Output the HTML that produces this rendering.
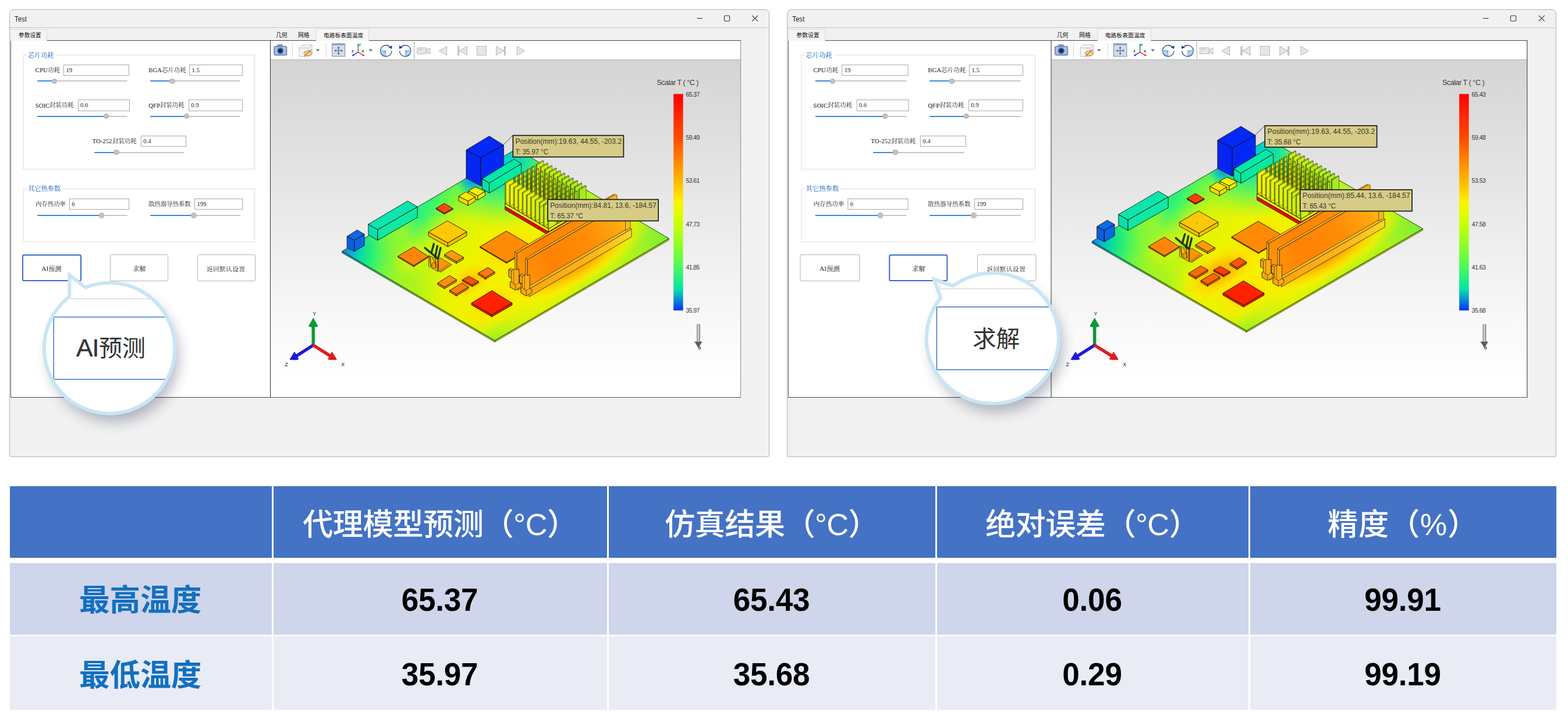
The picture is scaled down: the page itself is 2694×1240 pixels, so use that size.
<!DOCTYPE html><html lang="zh"><head><meta charset="utf-8"><title>Thermal surrogate model vs simulation</title><style>
*{box-sizing:border-box}
html,body{margin:0;padding:0}
body{width:2694px;height:1240px;background:#fff;position:relative;overflow:hidden;font-family:"Liberation Sans",sans-serif;color:#000}
.abs,.cj{position:absolute}
.cj{overflow:visible;display:block}
.cj text{font-family:"Liberation Sans","Noto Sans CJK SC",sans-serif}
.cj text.sf{font-family:"Liberation Serif","Noto Serif CJK SC",serif}
.win{position:absolute;left:0;top:0;width:0;height:0;transform-origin:0 0}
.frame{position:absolute;left:16.3px;top:16.3px;width:1305.6px;height:768.8px;background:#f1f1f1;border:1.3px solid #b4b4b4;border-radius:8px 8px 3px 3px}
.ttl{position:absolute;left:25px;top:26.0px;font-size:13.4px;line-height:14px;color:#222;transform:scaleX(0.85);transform-origin:0 0}
.tline{position:absolute;left:17px;top:47.2px;width:1304px;height:1.2px;background:#c4c4c4}
.panel{position:absolute;background:#fff}
.tab{position:absolute;background:#f4f4f4;border:1px solid #dcdcdc;border-bottom:none}
.gb{position:absolute;border:1px solid #dedede}
.inp{position:absolute;height:19.4px;border:1px solid #a8a8a8;background:#fff;font-family:"Liberation Serif",serif;font-size:10.6px;line-height:18px;padding-left:3.6px;color:#222}
.lab{position:absolute;font-family:"Liberation Serif",serif;font-size:10.8px;color:#222;white-space:nowrap;line-height:12px}
.trk{position:absolute;height:2px;background:#c6c6c6;border-radius:1px}
.trk i{position:absolute;left:0;top:0;height:2px;background:#3c88dc;border-radius:1px}
.knob{position:absolute;width:9.4px;height:9.4px;border-radius:50%;background:#c2c2c2;border:0.5px solid #b0b0b0}
.btn{position:absolute;height:46.4px;border:1px solid #b4b4b4;border-radius:2.5px;background:#fff}
.btn.sel{border:2px solid #3a6cc8;border-radius:3px}
.lt{font-family:"Liberation Sans",sans-serif;font-size:12px;fill:#3c3824}
.cbl{position:absolute;font-size:10.4px;color:#333;letter-spacing:-0.5px;line-height:10px}
table.t{position:absolute;left:16.8px;top:834.6px;border-collapse:separate;border-spacing:0}
.t td{padding:0;text-align:center;vertical-align:middle;position:relative}
.num{font-weight:bold;font-size:53px;letter-spacing:-0.2px;color:#000;line-height:60px;display:block;transform:scaleY(1.05)}
.vh{position:absolute;width:1px;height:1px;overflow:hidden;clip:rect(0 0 0 0);white-space:nowrap}
</style></head><body><div class="win" style="transform:translate(16.30px,0) scaleX(1.00000) translate(-16.30px,0)"><div class="frame"></div><div class="ttl">Test</div><svg class="abs" style="left:1180px;top:20px" width="130" height="24" viewBox="1180 20 130 24"><g fill="none" stroke="#2a2a2a" stroke-width="1.05"><path d="M1197.3 31.5h9.6"/><rect x="1244.4" y="27" width="9.2" height="9.2" rx="1.6"/><path d="M1292.2 26.6l9.8 9.8M1302 26.6l-9.8 9.8"/></g></svg><div class="tline"></div><div class="tab" style="left:17.5px;top:49.6px;width:63px;height:20.4px"></div><svg class="cj" role="img" aria-label="参数设置" style="left:32.40px;top:53.90px" width="40.8" height="14.1" viewBox="0 0 40.8 14.1"><title>参数设置</title><text x="0" y="9.7" font-size="9.7" fill="#111">参数设置</text></svg><div class="abs" style="left:80.5px;top:68.9px;width:385px;height:1.3px;background:#4a4a4a"></div><div class="panel" style="left:17.6px;top:70.1px;width:447px;height:612.6px;border-left:1.6px solid #555;border-bottom:1.2px solid #444"></div><div class="gb" style="left:40.4px;top:94.2px;width:397.4px;height:196.6px"></div><div class="abs" style="left:45.5px;top:88px;width:50px;height:13px;background:#fff"></div><svg class="cj" role="img" aria-label="芯片功耗" style="left:48.20px;top:87.50px" width="46.4" height="16.1" viewBox="0 0 46.4 16.1"><title>芯片功耗</title><text class="sf" x="0" y="11.1" font-size="11.1" font-weight="500" fill="#2878c8">芯片功耗</text></svg><div class="gb" style="left:40.4px;top:324.2px;width:397.4px;height:91.4px"></div><div class="abs" style="left:45.5px;top:318px;width:61.5px;height:13px;background:#fff"></div><svg class="cj" role="img" aria-label="其它热参数" style="left:48.20px;top:317.40px" width="58.0" height="16.2" viewBox="0 0 58.0 16.2"><title>其它热参数</title><text class="sf" x="0" y="11.2" font-size="11.2" font-weight="500" fill="#2878c8">其它热参数</text></svg><span class="lab" style="left:60.7px;top:114.3px" >CPU</span><svg class="cj" role="img" aria-label="功耗" style="left:81.90px;top:114.10px" width="22.8" height="15.1" viewBox="0 0 22.8 15.1"><title>功耗</title><text class="sf" x="0" y="10.4" font-size="10.4" fill="#222">功耗</text></svg><div class="inp" style="left:108.9px;top:111.0px;width:113.6px">19</div><div class="trk" style="left:64.0px;top:138.3px;width:155.2px"><i style="width:29.7px"></i></div><div class="knob" style="left:89.0px;top:134.5px"></div><span class="lab" style="left:255.2px;top:114.3px" >BGA</span><svg class="cj" role="img" aria-label="芯片功耗" style="left:278.10px;top:114.10px" width="43.6" height="15.1" viewBox="0 0 43.6 15.1"><title>芯片功耗</title><text class="sf" x="0" y="10.4" font-size="10.4" fill="#222">芯片功耗</text></svg><div class="inp" style="left:325.0px;top:111.0px;width:91.7px">1.5</div><div class="trk" style="left:258.0px;top:138.3px;width:155.0px"><i style="width:38.0px"></i></div><div class="knob" style="left:291.3px;top:134.5px"></div><span class="lab" style="left:60.7px;top:174.6px" >SOIC</span><svg class="cj" role="img" aria-label="封装功耗" style="left:85.40px;top:174.40px" width="43.6" height="15.1" viewBox="0 0 43.6 15.1"><title>封装功耗</title><text class="sf" x="0" y="10.4" font-size="10.4" fill="#222">封装功耗</text></svg><div class="inp" style="left:133.5px;top:171.3px;width:89.0px">0.6</div><div class="trk" style="left:64.0px;top:198.7px;width:155.2px"><i style="width:118.4px"></i></div><div class="knob" style="left:177.7px;top:194.9px"></div><span class="lab" style="left:255.2px;top:174.6px" >QFP</span><svg class="cj" role="img" aria-label="封装功耗" style="left:275.10px;top:174.40px" width="43.6" height="15.1" viewBox="0 0 43.6 15.1"><title>封装功耗</title><text class="sf" x="0" y="10.4" font-size="10.4" fill="#222">封装功耗</text></svg><div class="inp" style="left:323.7px;top:171.3px;width:93.0px">0.9</div><div class="trk" style="left:258.0px;top:198.7px;width:155.0px"><i style="width:62.3px"></i></div><div class="knob" style="left:315.6px;top:194.9px"></div><span class="lab" style="left:158.5px;top:236.4px" >TO-252</span><svg class="cj" role="img" aria-label="封装功耗" style="left:192.60px;top:236.20px" width="43.6" height="15.1" viewBox="0 0 43.6 15.1"><title>封装功耗</title><text class="sf" x="0" y="10.4" font-size="10.4" fill="#222">封装功耗</text></svg><div class="inp" style="left:241.7px;top:233.1px;width:78.6px">0.4</div><div class="trk" style="left:161.8px;top:260.7px;width:155.2px"><i style="width:38.2px"></i></div><div class="knob" style="left:195.3px;top:256.9px"></div><svg class="cj" role="img" aria-label="内存热功率" style="left:61.40px;top:344.00px" width="54.0" height="15.1" viewBox="0 0 54.0 15.1"><title>内存热功率</title><text class="sf" x="0" y="10.4" font-size="10.4" fill="#222">内存热功率</text></svg><div class="inp" style="left:118.7px;top:340.9px;width:103.8px">6</div><div class="trk" style="left:64.0px;top:369.0px;width:155.2px"><i style="width:110.6px"></i></div><div class="knob" style="left:169.9px;top:365.2px"></div><svg class="cj" role="img" aria-label="散热器导热系数" style="left:255.20px;top:344.00px" width="74.8" height="15.1" viewBox="0 0 74.8 15.1"><title>散热器导热系数</title><text class="sf" x="0" y="10.4" font-size="10.4" fill="#222">散热器导热系数</text></svg><div class="inp" style="left:333.8px;top:340.9px;width:82.9px">199</div><div class="trk" style="left:258.0px;top:369.0px;width:155.0px"><i style="width:75.1px"></i></div><div class="knob" style="left:328.4px;top:365.2px"></div><div class="btn sel" style="left:38.1px;top:436.5px;width:101.7px"></div><div class="btn" style="left:189.2px;top:436.5px;width:99.8px"></div><div class="btn" style="left:338.9px;top:436.5px;width:99.8px"></div><span class="lab" style="left:71.2px;top:455.0px;font-size:11.4px">AI</span><svg class="cj" role="img" aria-label="预测" style="left:83.40px;top:454.60px" width="24.6" height="16.4" viewBox="0 0 24.6 16.4"><title>预测</title><text class="sf" x="0" y="11.3" font-size="11.3" fill="#222">预测</text></svg><svg class="cj" role="img" aria-label="求解" style="left:227.80px;top:454.50px" width="24.8" height="16.5" viewBox="0 0 24.8 16.5"><title>求解</title><text class="sf" x="0" y="11.4" font-size="11.4" fill="#222">求解</text></svg><svg class="cj" role="img" aria-label="返回默认设置" style="left:355.10px;top:455.00px" width="68.3" height="15.4" viewBox="0 0 68.3 15.4"><title>返回默认设置</title><text class="sf" x="0" y="10.6" font-size="10.6" letter-spacing="0.45" fill="#222">返回默认设置</text></svg><svg class="cj" role="img" aria-label="几何" style="left:473.80px;top:53.70px" width="21.6" height="14.2" viewBox="0 0 21.6 14.2"><title>几何</title><text x="0" y="9.8" font-size="9.8" fill="#111">几何</text></svg><svg class="cj" role="img" aria-label="网格" style="left:512.20px;top:53.70px" width="21.6" height="14.2" viewBox="0 0 21.6 14.2"><title>网格</title><text x="0" y="9.8" font-size="9.8" fill="#111">网格</text></svg><div class="tab" style="left:542.6px;top:49.4px;width:91px;height:20.6px;background:#f6f6f6"></div><svg class="cj" role="img" aria-label="电路板表面温度" style="left:556.20px;top:54.00px" width="70.2" height="13.9" viewBox="0 0 70.2 13.9"><title>电路板表面温度</title><text x="0" y="9.6" font-size="9.6" letter-spacing="0.15" fill="#111">电路板表面温度</text></svg><div class="abs" style="left:463.6px;top:68.8px;width:79px;height:1.4px;background:#444"></div><div class="abs" style="left:633.6px;top:68.8px;width:639.4px;height:1.4px;background:#444"></div><div class="abs" style="left:463.6px;top:70.2px;width:809.6px;height:612.6px;border-left:1.8px solid #333;border-right:1.6px solid #8c8c8c;border-bottom:1.2px solid #555;background:linear-gradient(#fff 0,#fff 32.0px,#9a9a9a 32.0px,#d4d4d4 33.2px,#d6d6d6 8%,#dedede 25%,#e8e8e8 45%,#f2f2f2 65%,#fafafa 82%,#fff 96%)"></div><svg class="abs" style="left:466px;top:71px" width="450" height="31" viewBox="466 71 450 31"><g><rect x="470.8" y="79.4" width="22" height="15.6" rx="2.4" fill="#7894c4" stroke="#50679a" stroke-width="0.8"/><rect x="476.5" y="76.8" width="9" height="4" rx="1" fill="#7894c4" stroke="#50679a" stroke-width="0.7"/><rect x="472.2" y="80.8" width="19.2" height="12.8" rx="1.6" fill="#a8bce0"/><circle cx="481.6" cy="87.2" r="5.6" fill="#5f7fb8"/><circle cx="481.6" cy="87.2" r="3.9" fill="#16305e"/><circle cx="489.4" cy="82.4" r="0.9" fill="#fff"/></g><path d="M502.5 74.5v24M560.4 74.5v24" stroke="#d4d4d4" stroke-width="1"/><g stroke="#b4b4b4" stroke-width="0.8" fill="#f4f4f4"><path d="M514 82.5l5.5-5.5h16.5v14.5l-5.5 5.5h-16.5z"/><path d="M514 82.5h16.5v14.5M530.5 82.5l5.5-5.5" fill="none"/></g><ellipse cx="529.2" cy="91.6" rx="7.2" ry="4.3" fill="#e8c878" stroke="#b08840" stroke-width="0.9"/><ellipse cx="529.2" cy="91.6" rx="3.6" ry="2.6" fill="#f0dca0"/><path d="M522.4 97.2l12.8-12.4" stroke="#d04830" stroke-width="1.1"/><path d="M542.6 84.6h6.6l-3.3 3.8z" fill="#6c6c6c"/><rect x="570.6" y="75" width="22.2" height="21.8" fill="#d4dcec" stroke="#6c7c9c" stroke-width="0.9"/><rect x="570.6" y="75" width="22.2" height="2.6" fill="#8c9cbc"/><g stroke="#3c4c74" stroke-width="0.9" fill="#3c4c74"><path d="M581.7 81.5v11M576.2 87h11" fill="none"/><path d="M581.7 80.2l-1.6 2.2h3.2zM581.7 93.8l-1.6-2.2h3.2zM574.9 87l2.2-1.6v3.2zM588.5 87l-2.2-1.6v3.2z" stroke-width="0.4"/></g><g stroke-width="1.4" fill="none"><path d="M615.4 89.6v-12" stroke="#10a040"/><path d="M615.4 89.6l-9 5.6" stroke="#2030e8"/><path d="M615.4 89.6l9.4 5.6" stroke="#e82020"/></g><path d="M615.4 75l-2.2 3.6h4.4z" fill="#10a040"/><path d="M604.6 96.4l4-0.6-2-3z" fill="#2030e8"/><path d="M626.6 96.4l-4-0.6 2-3z" fill="#e82020"/><text x="616.4" y="79" font-size="5.6" font-weight="bold" fill="#222" font-family="Liberation Sans,sans-serif">Y</text><text x="604" y="90.4" font-size="6" font-weight="bold" fill="#222" font-family="Liberation Sans,sans-serif">Z</text><text x="621.6" y="90.4" font-size="6" font-weight="bold" fill="#222" font-family="Liberation Sans,sans-serif">X</text><path d="M633.6 84.6h6.6l-3.3 3.8z" fill="#6c6c6c"/><g fill="none" stroke="#2c4c84" stroke-width="1.3"><path d="M670.2 80.8a9.6 9.6 0 1 0 2.6 6.6"/></g><path d="M673.6 78.2l-0.4 5.8-5.4-2.6z" fill="#1c3c74"/><path d="M653.6 86.6h9.4v9.6a9.6 9.6 0 0 1-9.4-9.6z" fill="#a8d4f4" stroke="#4c84c4" stroke-width="0.6"/><path d="M660 88.4h1.6v1.4" stroke="#2c5c9c" stroke-width="0.6" fill="none"/><g fill="none" stroke="#2c4c84" stroke-width="1.3"><path d="M689.2 80.8a9.6 9.6 0 1 1-2.6 6.6"/></g><path d="M685.8 78.2l0.4 5.8 5.4-2.6z" fill="#1c3c74"/><path d="M705.8 86.6h-9.4v9.6a9.6 9.6 0 0 0 9.4-9.6z" fill="#a8d4f4" stroke="#4c84c4" stroke-width="0.6"/><path d="M699.4 88.4h-1.6v1.4" stroke="#2c5c9c" stroke-width="0.6" fill="none"/><path d="M711.6 72v29.5" stroke="#a4a4a4" stroke-width="1"/><rect x="716.8" y="82" width="16" height="10.6" rx="1" fill="#e6e6e6" stroke="#b8b8b8" stroke-width="1"/><path d="M733.2 85.4l5.8-3v10.4l-5.8-3z" fill="#e6e6e6" stroke="#b8b8b8" stroke-width="1"/><rect x="719.4" y="84.2" width="5.6" height="1.8" fill="#c4c4c4"/><path d="M767.6 79.6v15.2l-13.4-7.6z" fill="#e6e6e6" stroke="#b8b8b8" stroke-width="1"/><path d="M802.4 79.6v15.2l-13.4-7.6z" fill="#e6e6e6" stroke="#b8b8b8" stroke-width="1"/><rect x="786.4" y="79.4" width="2.4" height="15.6" fill="#c8c8c8" stroke="#b0b0b0" stroke-width="0.6"/><rect x="819.4" y="79.4" width="16" height="15.6" fill="#e6e6e6" stroke="#b8b8b8" stroke-width="1"/><path d="M852.6 79.6v15.2l13.4-7.6z" fill="#e6e6e6" stroke="#b8b8b8" stroke-width="1"/><rect x="866.2" y="79.4" width="2.4" height="15.6" fill="#c8c8c8" stroke="#b0b0b0" stroke-width="0.6"/><path d="M888.4 79.6v15.2l13.4-7.6z" fill="#e6e6e6" stroke="#b8b8b8" stroke-width="1"/></svg><svg class="abs" style="left:465.4px;top:102.8px" width="806" height="579" viewBox="465.4 102.8 806 579"><g transform="translate(0.0 0.0)"><defs><defs><linearGradient id="asideL" gradientUnits="userSpaceOnUse" x1="588.2" y1="0" x2="850.6" y2="0"><stop offset="0" stop-color="#1880b8"/><stop offset="0.2" stop-color="#1cc080"/><stop offset="0.5" stop-color="#84c424"/><stop offset="1" stop-color="#9cc81c"/></linearGradient></defs><clipPath id="abc"><polygon points="588.2,431.3 887.4,255.6 1149.7,409.4 850.6,584.6"/></clipPath><linearGradient id="agLT" gradientUnits="userSpaceOnUse" x1="737.8" y1="343.4" x2="845.7" y2="406.5"><stop offset="0" stop-color="#2cf47a" stop-opacity="1"/><stop offset="0.2" stop-color="#5cf84e" stop-opacity="0.95"/><stop offset="0.45" stop-color="#a4f622" stop-opacity="0.75"/><stop offset="0.75" stop-color="#d4f60a" stop-opacity="0.4"/><stop offset="1" stop-color="#ecf400" stop-opacity="0"/></linearGradient><linearGradient id="agLB" gradientUnits="userSpaceOnUse" x1="719.4" y1="508.0" x2="779.8" y2="472.5"><stop offset="0" stop-color="#a8f41e" stop-opacity="0.95"/><stop offset="0.5" stop-color="#cdf60c" stop-opacity="0.6"/><stop offset="1" stop-color="#e6f400" stop-opacity="0"/></linearGradient><linearGradient id="agBR" gradientUnits="userSpaceOnUse" x1="1000.2" y1="497.0" x2="922.4" y2="451.6"><stop offset="0" stop-color="#b8f416" stop-opacity="0.9"/><stop offset="0.5" stop-color="#dcf404" stop-opacity="0.5"/><stop offset="1" stop-color="#e6f400" stop-opacity="0"/></linearGradient><linearGradient id="agTR" gradientUnits="userSpaceOnUse" x1="1018.5" y1="332.5" x2="928.0" y2="385.7"><stop offset="0" stop-color="#98f42c" stop-opacity="0.9"/><stop offset="0.5" stop-color="#bcf416" stop-opacity="0.55"/><stop offset="1" stop-color="#e6f400" stop-opacity="0"/></linearGradient><radialGradient id="arL" gradientUnits="userSpaceOnUse" cx="584.2" cy="431.3" r="128.0"><stop offset="0" stop-color="#1c78e8" stop-opacity="1"/><stop offset="0.12" stop-color="#10a0d8" stop-opacity="1"/><stop offset="0.25" stop-color="#02d4b0" stop-opacity="1"/><stop offset="0.45" stop-color="#1cf07c" stop-opacity="0.9"/><stop offset="0.7" stop-color="#60f84c" stop-opacity="0.5"/><stop offset="1" stop-color="#a0f820" stop-opacity="0"/></radialGradient><radialGradient id="arT" gradientUnits="userSpaceOnUse" cx="862.4" cy="275.6" r="120.0"><stop offset="0" stop-color="#00c8d8" stop-opacity="1"/><stop offset="0.3" stop-color="#04dcb8" stop-opacity="0.95"/><stop offset="0.6" stop-color="#30f478" stop-opacity="0.7"/><stop offset="1" stop-color="#80f838" stop-opacity="0"/></radialGradient><radialGradient id="arBx" gradientUnits="userSpaceOnUse" cx="812.0" cy="308.0" r="30.0"><stop offset="0" stop-color="#0c7ce8" stop-opacity="0.95"/><stop offset="0.5" stop-color="#08b8d0" stop-opacity="0.7"/><stop offset="1" stop-color="#10e0a0" stop-opacity="0"/></radialGradient><radialGradient id="arR" gradientUnits="userSpaceOnUse" cx="1149.7" cy="409.4" r="125.0"><stop offset="0" stop-color="#74ee3a" stop-opacity="1"/><stop offset="0.4" stop-color="#9cf228" stop-opacity="0.8"/><stop offset="1" stop-color="#d0f408" stop-opacity="0"/></radialGradient><radialGradient id="arB" gradientUnits="userSpaceOnUse" cx="850.6" cy="584.6" r="120.0"><stop offset="0" stop-color="#86f030" stop-opacity="1"/><stop offset="0.4" stop-color="#a8f420" stop-opacity="0.7"/><stop offset="1" stop-color="#dcf404" stop-opacity="0"/></radialGradient><radialGradient id="ah1" gradientUnits="userSpaceOnUse" cx="0" cy="0" r="1" gradientTransform="translate(985.0 448.0) rotate(-30.42) scale(150.0 49.0)"><stop offset="0" stop-color="#ff8c00" stop-opacity="1"/><stop offset="0.35" stop-color="#ffa800" stop-opacity="1"/><stop offset="0.55" stop-color="#ffd000" stop-opacity="0.95"/><stop offset="0.76" stop-color="#fbee00" stop-opacity="0.7"/><stop offset="1" stop-color="#eef400" stop-opacity="0"/></radialGradient><radialGradient id="ah2" gradientUnits="userSpaceOnUse" cx="0" cy="0" r="1" gradientTransform="translate(808.0 482.0) rotate(-30.42) scale(58.0 30.0)"><stop offset="0" stop-color="#ffbc00" stop-opacity="1"/><stop offset="0.4" stop-color="#ffd400" stop-opacity="0.85"/><stop offset="1" stop-color="#f8f000" stop-opacity="0"/></radialGradient><radialGradient id="ah3" gradientUnits="userSpaceOnUse" cx="0" cy="0" r="1" gradientTransform="translate(846.0 522.0) rotate(-30.42) scale(62.0 40.0)"><stop offset="0" stop-color="#ffc800" stop-opacity="0.9"/><stop offset="0.5" stop-color="#ffe400" stop-opacity="0.65"/><stop offset="1" stop-color="#f4f400" stop-opacity="0"/></radialGradient><radialGradient id="ah4" gradientUnits="userSpaceOnUse" cx="0" cy="0" r="1" gradientTransform="translate(872.0 428.0) rotate(-30.42) scale(70.0 46.0)"><stop offset="0" stop-color="#ffc400" stop-opacity="0.9"/><stop offset="0.5" stop-color="#ffe400" stop-opacity="0.6"/><stop offset="1" stop-color="#f4f400" stop-opacity="0"/></radialGradient><radialGradient id="ah0" gradientUnits="userSpaceOnUse" cx="0" cy="0" r="1" gradientTransform="translate(872.0 488.0) rotate(-30.42) scale(215.0 82.0)"><stop offset="0" stop-color="#f8f000" stop-opacity="0.95"/><stop offset="0.55" stop-color="#f2f200" stop-opacity="0.8"/><stop offset="1" stop-color="#e8f400" stop-opacity="0"/></radialGradient><radialGradient id="ah5" gradientUnits="userSpaceOnUse" cx="0" cy="0" r="1" gradientTransform="translate(765.0 405.0) rotate(-30.42) scale(60.0 44.0)"><stop offset="0" stop-color="#fff000" stop-opacity="0.8"/><stop offset="1" stop-color="#f0f400" stop-opacity="0"/></radialGradient><radialGradient id="ah6" gradientUnits="userSpaceOnUse" cx="0" cy="0" r="1" gradientTransform="translate(712.0 442.0) rotate(-30.42) scale(44.0 30.0)"><stop offset="0" stop-color="#ffe800" stop-opacity="0.7"/><stop offset="1" stop-color="#f0f400" stop-opacity="0"/></radialGradient><linearGradient id="adm" gradientUnits="userSpaceOnUse" x1="900.0" y1="470.0" x2="1080.0" y2="365.0"><stop offset="0" stop-color="#ff920a" stop-opacity="1"/><stop offset="0.25" stop-color="#ff8204" stop-opacity="1"/><stop offset="0.6" stop-color="#ff8c06" stop-opacity="1"/><stop offset="0.85" stop-color="#ffa60e" stop-opacity="1"/><stop offset="1" stop-color="#ffc018" stop-opacity="1"/></linearGradient><linearGradient id="arl" gradientUnits="userSpaceOnUse" x1="900.0" y1="500.0" x2="1085.0" y2="395.0"><stop offset="0" stop-color="#ffa40e" stop-opacity="1"/><stop offset="0.6" stop-color="#ffb418" stop-opacity="1"/><stop offset="1" stop-color="#ffd424" stop-opacity="1"/></linearGradient></defs><polygon points="588.2,431.3 850.6,584.6 850.6,587.4 588.2,434.1" fill="url(#asideL)" stroke="#0c0c04" stroke-width="0.6" stroke-linejoin="round"/><polygon points="850.6,584.6 1149.7,409.4 1149.7,412.2 850.6,587.4" fill="#a8c818" stroke="#0c0c04" stroke-width="0.5" stroke-linejoin="round"/><g clip-path="url(#abc)"><rect x="560" y="240" width="620" height="360" fill="#eef400"/><rect x="560" y="240" width="620" height="360" fill="url(#agLT)"/><rect x="560" y="240" width="620" height="360" fill="url(#agTR)"/><rect x="560" y="240" width="620" height="360" fill="url(#agLB)"/><rect x="560" y="240" width="620" height="360" fill="url(#agBR)"/><rect x="560" y="240" width="620" height="360" fill="url(#arR)"/><rect x="560" y="240" width="620" height="360" fill="url(#arB)"/><rect x="560" y="240" width="620" height="360" fill="url(#arT)"/><rect x="560" y="240" width="620" height="360" fill="url(#arBx)"/><rect x="560" y="240" width="620" height="360" fill="url(#arL)"/><rect x="560" y="240" width="620" height="360" fill="url(#ah0)"/><rect x="560" y="240" width="620" height="360" fill="url(#ah5)"/><rect x="560" y="240" width="620" height="360" fill="url(#ah6)"/><rect x="560" y="240" width="620" height="360" fill="url(#ah4)"/><rect x="560" y="240" width="620" height="360" fill="url(#ah1)"/><rect x="560" y="240" width="620" height="360" fill="url(#ah2)"/><rect x="560" y="240" width="620" height="360" fill="url(#ah3)"/></g><polygon points="588.2,431.3 887.4,255.6 1149.7,409.4 850.6,584.6" fill="none" stroke="#0c0c04" stroke-width="0.8" stroke-linejoin="round"/><polygon points="801.4,257.4 826.4,270.6 826.4,319.1 801.4,305.9" fill="#0426f0" stroke="#0c0c04" stroke-width="0.85" stroke-linejoin="round"/><polygon points="826.4,270.6 865.7,249.0 865.7,297.5 826.4,319.1" fill="#0428f4" stroke="#0c0c04" stroke-width="0.85" stroke-linejoin="round"/><polygon points="841.0,233.5 801.4,257.4 826.4,270.6 865.7,249.0" fill="#0428f6" stroke="#0c0c04" stroke-width="0.85" stroke-linejoin="round"/><polygon points="828.9,306.8 841.0,314.1 841.0,331.4 828.9,324.1" fill="#04e2a8" stroke="#0c0c04" stroke-width="0.85" stroke-linejoin="round"/><polygon points="841.0,314.1 896.0,281.0 896.0,298.3 841.0,331.4" fill="#08eaa0" stroke="#0c0c04" stroke-width="0.85" stroke-linejoin="round"/><polygon points="883.7,273.1 828.9,306.8 841.0,314.1 896.0,281.0" fill="#04e8a8" stroke="#0c0c04" stroke-width="0.85" stroke-linejoin="round"/><polygon points="805.2,327.6 821.3,336.0 821.3,343.4 805.2,335.0" fill="#ece400" stroke="#0c0c04" stroke-width="0.85" stroke-linejoin="round"/><polygon points="821.3,336.0 833.9,328.4 833.9,335.8 821.3,343.4" fill="#f0ea00" stroke="#0c0c04" stroke-width="0.85" stroke-linejoin="round"/><polygon points="817.0,320.8 805.2,327.6 821.3,336.0 833.9,328.4" fill="#f4f000" stroke="#0c0c04" stroke-width="0.85" stroke-linejoin="round"/><polygon points="788.4,336.9 804.7,345.3 804.7,352.9 788.4,344.5" fill="#f6d800" stroke="#0c0c04" stroke-width="0.85" stroke-linejoin="round"/><polygon points="804.7,345.3 817.0,337.7 817.0,345.3 804.7,352.9" fill="#fadc00" stroke="#0c0c04" stroke-width="0.85" stroke-linejoin="round"/><polygon points="801.0,329.3 788.4,336.9 804.7,345.3 817.0,337.7" fill="#ffe400" stroke="#0c0c04" stroke-width="0.85" stroke-linejoin="round"/><polygon points="633.2,384.9 649.3,394.2 649.3,412.5 633.2,403.2" fill="#08e0ae" stroke="#0c0c04" stroke-width="0.85" stroke-linejoin="round"/><polygon points="649.3,394.2 717.6,354.9 717.6,373.2 649.3,412.5" fill="#10e8a4" stroke="#0c0c04" stroke-width="0.85" stroke-linejoin="round"/><polygon points="700.7,345.0 633.2,384.9 649.3,394.2 717.6,354.9" fill="#0ce6ac" stroke="#0c0c04" stroke-width="0.85" stroke-linejoin="round"/><polygon points="596.6,405.7 609.1,412.4 609.1,431.8 596.6,425.1" fill="#0c60e0" stroke="#0c0c04" stroke-width="0.85" stroke-linejoin="round"/><polygon points="609.1,412.4 626.5,402.1 626.5,421.5 609.1,431.8" fill="#0e64e4" stroke="#0c0c04" stroke-width="0.85" stroke-linejoin="round"/><polygon points="614.2,394.7 596.6,405.7 609.1,412.4 626.5,402.1" fill="#1068e8" stroke="#0c0c04" stroke-width="0.85" stroke-linejoin="round"/><polygon points="749.6,357.4 763.9,365.9 763.9,367.5 749.6,359.0" fill="#ef4307" stroke="#0c0c04" stroke-width="0.85" stroke-linejoin="round"/><polygon points="763.9,365.9 778.6,357.9 778.6,359.5 763.9,367.5" fill="#f94607" stroke="#0c0c04" stroke-width="0.85" stroke-linejoin="round"/><polygon points="763.9,349.0 749.6,357.4 763.9,365.9 778.6,357.9" fill="#ff4808" stroke="#0c0c04" stroke-width="0.85" stroke-linejoin="round"/><polygon points="868.2,354.3 942.8,397.9 942.8,403.7 868.2,360.1" fill="#fa0000" stroke="#0c0c04" stroke-width="0.8" stroke-linejoin="round"/><polygon points="942.8,397.9 1007.5,359.8 1007.5,365.6 942.8,403.7" fill="#f40400" stroke="#0c0c04" stroke-width="0.8" stroke-linejoin="round"/><polygon points="868.2,354.3 932.9,316.3 1007.5,359.8 942.8,397.9" fill="#ff0800" stroke="#0c0c04" stroke-width="0.8" stroke-linejoin="round"/><polygon points="868.2,349.1 942.8,392.7 942.8,397.9 868.2,354.3" fill="#f0f010" stroke="#0c0c04" stroke-width="0.8" stroke-linejoin="round"/><polygon points="942.8,392.7 1007.5,354.6 1007.5,359.8 942.8,397.9" fill="#e4ec08" stroke="#0c0c04" stroke-width="0.8" stroke-linejoin="round"/><polygon points="868.2,349.1 932.9,311.1 1007.5,354.6 942.8,392.7" fill="#e8f000" stroke="#0c0c04" stroke-width="0.8" stroke-linejoin="round"/><polygon points="921.3,282.1 922.7,283.0 922.7,318.8 921.3,317.9" fill="#b3d311" stroke="#0c0c04" stroke-width="0.5" stroke-linejoin="round"/><polygon points="922.7,283.0 934.4,276.1 934.4,311.9 922.7,318.8" fill="#ccf014" stroke="#0c0c04" stroke-width="0.5" stroke-linejoin="round"/><polygon points="921.3,282.1 932.9,275.3 934.4,276.1 922.7,283.0" fill="#ccf014" stroke="#0c0c04" stroke-width="0.5" stroke-linejoin="round"/><polygon points="928.6,286.4 930.0,287.2 930.0,323.0 928.6,322.2" fill="#b0d312" stroke="#0c0c04" stroke-width="0.5" stroke-linejoin="round"/><polygon points="930.0,287.2 941.7,280.4 941.7,316.2 930.0,323.0" fill="#c8f015" stroke="#0c0c04" stroke-width="0.5" stroke-linejoin="round"/><polygon points="928.6,286.4 940.3,279.6 941.7,280.4 930.0,287.2" fill="#c8f015" stroke="#0c0c04" stroke-width="0.5" stroke-linejoin="round"/><polygon points="935.9,290.7 937.3,291.5 937.3,327.3 935.9,326.5" fill="#acd213" stroke="#0c0c04" stroke-width="0.5" stroke-linejoin="round"/><polygon points="937.3,291.5 949.0,284.7 949.0,320.5 937.3,327.3" fill="#c4ef16" stroke="#0c0c04" stroke-width="0.5" stroke-linejoin="round"/><polygon points="935.9,290.7 947.6,283.8 949.0,284.7 937.3,291.5" fill="#c4ef16" stroke="#0c0c04" stroke-width="0.5" stroke-linejoin="round"/><polygon points="943.2,294.9 944.7,295.8 944.7,331.6 943.2,330.7" fill="#a9d214" stroke="#0c0c04" stroke-width="0.5" stroke-linejoin="round"/><polygon points="944.7,295.8 956.3,288.9 956.3,324.7 944.7,331.6" fill="#c1ef17" stroke="#0c0c04" stroke-width="0.5" stroke-linejoin="round"/><polygon points="943.2,294.9 954.9,288.1 956.3,288.9 944.7,295.8" fill="#c1ef17" stroke="#0c0c04" stroke-width="0.5" stroke-linejoin="round"/><polygon points="950.5,299.2 952.0,300.0 952.0,335.8 950.5,335.0" fill="#a6d115" stroke="#0c0c04" stroke-width="0.5" stroke-linejoin="round"/><polygon points="952.0,300.0 963.6,293.2 963.6,329.0 952.0,335.8" fill="#bdee18" stroke="#0c0c04" stroke-width="0.5" stroke-linejoin="round"/><polygon points="950.5,299.2 962.2,292.4 963.6,293.2 952.0,300.0" fill="#bdee18" stroke="#0c0c04" stroke-width="0.5" stroke-linejoin="round"/><polygon points="957.9,303.5 959.3,304.3 959.3,340.1 957.9,339.3" fill="#a3d116" stroke="#0c0c04" stroke-width="0.5" stroke-linejoin="round"/><polygon points="959.3,304.3 970.9,297.5 970.9,333.3 959.3,340.1" fill="#baee1a" stroke="#0c0c04" stroke-width="0.5" stroke-linejoin="round"/><polygon points="957.9,303.5 969.5,296.6 970.9,297.5 959.3,304.3" fill="#baee1a" stroke="#0c0c04" stroke-width="0.5" stroke-linejoin="round"/><polygon points="965.2,307.8 966.6,308.6 966.6,344.4 965.2,343.6" fill="#a0d117" stroke="#0c0c04" stroke-width="0.5" stroke-linejoin="round"/><polygon points="966.6,308.6 978.2,301.7 978.2,337.5 966.6,344.4" fill="#b6ee1b" stroke="#0c0c04" stroke-width="0.5" stroke-linejoin="round"/><polygon points="965.2,307.8 976.8,300.9 978.2,301.7 966.6,308.6" fill="#b6ee1b" stroke="#0c0c04" stroke-width="0.5" stroke-linejoin="round"/><polygon points="972.5,312.0 973.9,312.9 973.9,348.7 972.5,347.8" fill="#9cd018" stroke="#0c0c04" stroke-width="0.5" stroke-linejoin="round"/><polygon points="973.9,312.9 985.6,306.0 985.6,341.8 973.9,348.7" fill="#b2ed1c" stroke="#0c0c04" stroke-width="0.5" stroke-linejoin="round"/><polygon points="972.5,312.0 984.1,305.2 985.6,306.0 973.9,312.9" fill="#b2ed1c" stroke="#0c0c04" stroke-width="0.5" stroke-linejoin="round"/><polygon points="979.8,316.3 981.2,317.1 981.2,352.9 979.8,352.1" fill="#9ad019" stroke="#0c0c04" stroke-width="0.5" stroke-linejoin="round"/><polygon points="981.2,317.1 992.9,310.3 992.9,346.1 981.2,352.9" fill="#afed1d" stroke="#0c0c04" stroke-width="0.5" stroke-linejoin="round"/><polygon points="979.8,316.3 991.5,309.5 992.9,310.3 981.2,317.1" fill="#afed1d" stroke="#0c0c04" stroke-width="0.5" stroke-linejoin="round"/><polygon points="987.1,320.6 988.5,321.4 988.5,357.2 987.1,356.4" fill="#96d01a" stroke="#0c0c04" stroke-width="0.5" stroke-linejoin="round"/><polygon points="988.5,321.4 1000.2,314.6 1000.2,350.4 988.5,357.2" fill="#abed1e" stroke="#0c0c04" stroke-width="0.5" stroke-linejoin="round"/><polygon points="987.1,320.6 998.8,313.7 1000.2,314.6 988.5,321.4" fill="#abed1e" stroke="#0c0c04" stroke-width="0.5" stroke-linejoin="round"/><polygon points="994.4,324.9 995.8,325.7 995.8,361.5 994.4,360.7" fill="#93cf1c" stroke="#0c0c04" stroke-width="0.5" stroke-linejoin="round"/><polygon points="995.8,325.7 1007.5,318.8 1007.5,354.6 995.8,361.5" fill="#a8ec20" stroke="#0c0c04" stroke-width="0.5" stroke-linejoin="round"/><polygon points="994.4,324.9 1006.1,318.0 1007.5,318.8 995.8,325.7" fill="#a8ec20" stroke="#0c0c04" stroke-width="0.5" stroke-linejoin="round"/><polygon points="913.4,286.8 914.8,287.6 914.8,323.4 913.4,322.6" fill="#adc60e" stroke="#0c0c04" stroke-width="0.5" stroke-linejoin="round"/><polygon points="914.8,287.6 918.7,285.3 918.7,321.1 914.8,323.4" fill="#c5e210" stroke="#0c0c04" stroke-width="0.5" stroke-linejoin="round"/><polygon points="913.4,286.8 917.3,284.5 918.7,285.3 914.8,287.6" fill="#c5e210" stroke="#0c0c04" stroke-width="0.5" stroke-linejoin="round"/><polygon points="920.7,291.0 922.1,291.9 922.1,327.7 920.7,326.8" fill="#a9c60e" stroke="#0c0c04" stroke-width="0.5" stroke-linejoin="round"/><polygon points="922.1,291.9 926.0,289.6 926.0,325.4 922.1,327.7" fill="#c1e111" stroke="#0c0c04" stroke-width="0.5" stroke-linejoin="round"/><polygon points="920.7,291.0 924.6,288.8 926.0,289.6 922.1,291.9" fill="#c1e111" stroke="#0c0c04" stroke-width="0.5" stroke-linejoin="round"/><polygon points="928.0,295.3 929.4,296.1 929.4,331.9 928.0,331.1" fill="#a6c60f" stroke="#0c0c04" stroke-width="0.5" stroke-linejoin="round"/><polygon points="929.4,296.1 933.3,293.9 933.3,329.7 929.4,331.9" fill="#bde112" stroke="#0c0c04" stroke-width="0.5" stroke-linejoin="round"/><polygon points="928.0,295.3 931.9,293.0 933.3,293.9 929.4,296.1" fill="#bde112" stroke="#0c0c04" stroke-width="0.5" stroke-linejoin="round"/><polygon points="935.3,299.6 936.8,300.4 936.8,336.2 935.3,335.4" fill="#a4c510" stroke="#0c0c04" stroke-width="0.5" stroke-linejoin="round"/><polygon points="936.8,300.4 940.6,298.1 940.6,333.9 936.8,336.2" fill="#bbe013" stroke="#0c0c04" stroke-width="0.5" stroke-linejoin="round"/><polygon points="935.3,299.6 939.2,297.3 940.6,298.1 936.8,300.4" fill="#bbe013" stroke="#0c0c04" stroke-width="0.5" stroke-linejoin="round"/><polygon points="942.6,303.9 944.1,304.7 944.1,340.5 942.6,339.7" fill="#a1c511" stroke="#0c0c04" stroke-width="0.5" stroke-linejoin="round"/><polygon points="944.1,304.7 948.0,302.4 948.0,338.2 944.1,340.5" fill="#b7e014" stroke="#0c0c04" stroke-width="0.5" stroke-linejoin="round"/><polygon points="942.6,303.9 946.5,301.6 948.0,302.4 944.1,304.7" fill="#b7e014" stroke="#0c0c04" stroke-width="0.5" stroke-linejoin="round"/><polygon points="950.0,308.1 951.4,309.0 951.4,344.8 950.0,343.9" fill="#9ec513" stroke="#0c0c04" stroke-width="0.5" stroke-linejoin="round"/><polygon points="951.4,309.0 955.3,306.7 955.3,342.5 951.4,344.8" fill="#b4e016" stroke="#0c0c04" stroke-width="0.5" stroke-linejoin="round"/><polygon points="950.0,308.1 953.8,305.8 955.3,306.7 951.4,309.0" fill="#b4e016" stroke="#0c0c04" stroke-width="0.5" stroke-linejoin="round"/><polygon points="957.3,312.4 958.7,313.2 958.7,349.0 957.3,348.2" fill="#9ac414" stroke="#0c0c04" stroke-width="0.5" stroke-linejoin="round"/><polygon points="958.7,313.2 962.6,310.9 962.6,346.7 958.7,349.0" fill="#b0df17" stroke="#0c0c04" stroke-width="0.5" stroke-linejoin="round"/><polygon points="957.3,312.4 961.2,310.1 962.6,310.9 958.7,313.2" fill="#b0df17" stroke="#0c0c04" stroke-width="0.5" stroke-linejoin="round"/><polygon points="964.6,316.7 966.0,317.5 966.0,353.3 964.6,352.5" fill="#97c415" stroke="#0c0c04" stroke-width="0.5" stroke-linejoin="round"/><polygon points="966.0,317.5 969.9,315.2 969.9,351.0 966.0,353.3" fill="#acdf18" stroke="#0c0c04" stroke-width="0.5" stroke-linejoin="round"/><polygon points="964.6,316.7 968.5,314.4 969.9,315.2 966.0,317.5" fill="#acdf18" stroke="#0c0c04" stroke-width="0.5" stroke-linejoin="round"/><polygon points="971.9,320.9 973.3,321.8 973.3,357.6 971.9,356.7" fill="#95c416" stroke="#0c0c04" stroke-width="0.5" stroke-linejoin="round"/><polygon points="973.3,321.8 977.2,319.5 977.2,355.3 973.3,357.6" fill="#aadf19" stroke="#0c0c04" stroke-width="0.5" stroke-linejoin="round"/><polygon points="971.9,320.9 975.8,318.7 977.2,319.5 973.3,321.8" fill="#aadf19" stroke="#0c0c04" stroke-width="0.5" stroke-linejoin="round"/><polygon points="979.2,325.2 980.6,326.0 980.6,361.8 979.2,361.0" fill="#92c316" stroke="#0c0c04" stroke-width="0.5" stroke-linejoin="round"/><polygon points="980.6,326.0 984.5,323.8 984.5,359.6 980.6,361.8" fill="#a6de1a" stroke="#0c0c04" stroke-width="0.5" stroke-linejoin="round"/><polygon points="979.2,325.2 983.1,322.9 984.5,323.8 980.6,326.0" fill="#a6de1a" stroke="#0c0c04" stroke-width="0.5" stroke-linejoin="round"/><polygon points="986.5,329.5 987.9,330.3 987.9,366.1 986.5,365.3" fill="#8fc318" stroke="#0c0c04" stroke-width="0.5" stroke-linejoin="round"/><polygon points="987.9,330.3 991.8,328.0 991.8,363.8 987.9,366.1" fill="#a3de1c" stroke="#0c0c04" stroke-width="0.5" stroke-linejoin="round"/><polygon points="986.5,329.5 990.4,327.2 991.8,328.0 987.9,330.3" fill="#a3de1c" stroke="#0c0c04" stroke-width="0.5" stroke-linejoin="round"/><polygon points="906.1,291.0 907.6,291.9 907.6,327.7 906.1,326.8" fill="#b2c60d" stroke="#0c0c04" stroke-width="0.5" stroke-linejoin="round"/><polygon points="907.6,291.9 911.4,289.6 911.4,325.4 907.6,327.7" fill="#cbe20f" stroke="#0c0c04" stroke-width="0.5" stroke-linejoin="round"/><polygon points="906.1,291.0 910.0,288.7 911.4,289.6 907.6,291.9" fill="#cbe20f" stroke="#0c0c04" stroke-width="0.5" stroke-linejoin="round"/><polygon points="913.5,295.3 914.9,296.1 914.9,331.9 913.5,331.1" fill="#afc60d" stroke="#0c0c04" stroke-width="0.5" stroke-linejoin="round"/><polygon points="914.9,296.1 918.8,293.8 918.8,329.6 914.9,331.9" fill="#c7e20f" stroke="#0c0c04" stroke-width="0.5" stroke-linejoin="round"/><polygon points="913.5,295.3 917.3,293.0 918.8,293.8 914.9,296.1" fill="#c7e20f" stroke="#0c0c04" stroke-width="0.5" stroke-linejoin="round"/><polygon points="920.8,299.6 922.2,300.4 922.2,336.2 920.8,335.4" fill="#abc60e" stroke="#0c0c04" stroke-width="0.5" stroke-linejoin="round"/><polygon points="922.2,300.4 926.1,298.1 926.1,333.9 922.2,336.2" fill="#c3e110" stroke="#0c0c04" stroke-width="0.5" stroke-linejoin="round"/><polygon points="920.8,299.6 924.7,297.3 926.1,298.1 922.2,300.4" fill="#c3e110" stroke="#0c0c04" stroke-width="0.5" stroke-linejoin="round"/><polygon points="928.1,303.8 929.5,304.7 929.5,340.5 928.1,339.6" fill="#a8c60e" stroke="#0c0c04" stroke-width="0.5" stroke-linejoin="round"/><polygon points="929.5,304.7 933.4,302.4 933.4,338.2 929.5,340.5" fill="#c0e111" stroke="#0c0c04" stroke-width="0.5" stroke-linejoin="round"/><polygon points="928.1,303.8 932.0,301.6 933.4,302.4 929.5,304.7" fill="#c0e111" stroke="#0c0c04" stroke-width="0.5" stroke-linejoin="round"/><polygon points="935.4,308.1 936.8,308.9 936.8,344.7 935.4,343.9" fill="#a5c60f" stroke="#0c0c04" stroke-width="0.5" stroke-linejoin="round"/><polygon points="936.8,308.9 940.7,306.7 940.7,342.5 936.8,344.7" fill="#bce112" stroke="#0c0c04" stroke-width="0.5" stroke-linejoin="round"/><polygon points="935.4,308.1 939.3,305.8 940.7,306.7 936.8,308.9" fill="#bce112" stroke="#0c0c04" stroke-width="0.5" stroke-linejoin="round"/><polygon points="942.7,312.4 944.1,313.2 944.1,349.0 942.7,348.2" fill="#a3c511" stroke="#0c0c04" stroke-width="0.5" stroke-linejoin="round"/><polygon points="944.1,313.2 948.0,310.9 948.0,346.7 944.1,349.0" fill="#bae014" stroke="#0c0c04" stroke-width="0.5" stroke-linejoin="round"/><polygon points="942.7,312.4 946.6,310.1 948.0,310.9 944.1,313.2" fill="#bae014" stroke="#0c0c04" stroke-width="0.5" stroke-linejoin="round"/><polygon points="950.0,316.7 951.4,317.5 951.4,353.3 950.0,352.5" fill="#a0c512" stroke="#0c0c04" stroke-width="0.5" stroke-linejoin="round"/><polygon points="951.4,317.5 955.3,315.2 955.3,351.0 951.4,353.3" fill="#b6e015" stroke="#0c0c04" stroke-width="0.5" stroke-linejoin="round"/><polygon points="950.0,316.7 953.9,314.4 955.3,315.2 951.4,317.5" fill="#b6e015" stroke="#0c0c04" stroke-width="0.5" stroke-linejoin="round"/><polygon points="957.3,320.9 958.8,321.8 958.8,357.6 957.3,356.7" fill="#9cc513" stroke="#0c0c04" stroke-width="0.5" stroke-linejoin="round"/><polygon points="958.8,321.8 962.6,319.5 962.6,355.3 958.8,357.6" fill="#b2e016" stroke="#0c0c04" stroke-width="0.5" stroke-linejoin="round"/><polygon points="957.3,320.9 961.2,318.6 962.6,319.5 958.8,321.8" fill="#b2e016" stroke="#0c0c04" stroke-width="0.5" stroke-linejoin="round"/><polygon points="964.6,325.2 966.1,326.0 966.1,361.8 964.6,361.0" fill="#9ac414" stroke="#0c0c04" stroke-width="0.5" stroke-linejoin="round"/><polygon points="966.1,326.0 970.0,323.8 970.0,359.6 966.1,361.8" fill="#afdf17" stroke="#0c0c04" stroke-width="0.5" stroke-linejoin="round"/><polygon points="964.6,325.2 968.5,322.9 970.0,323.8 966.1,326.0" fill="#afdf17" stroke="#0c0c04" stroke-width="0.5" stroke-linejoin="round"/><polygon points="972.0,329.5 973.4,330.3 973.4,366.1 972.0,365.3" fill="#97c415" stroke="#0c0c04" stroke-width="0.5" stroke-linejoin="round"/><polygon points="973.4,330.3 977.3,328.0 977.3,363.8 973.4,366.1" fill="#acdf18" stroke="#0c0c04" stroke-width="0.5" stroke-linejoin="round"/><polygon points="972.0,329.5 975.8,327.2 977.3,328.0 973.4,330.3" fill="#acdf18" stroke="#0c0c04" stroke-width="0.5" stroke-linejoin="round"/><polygon points="979.3,333.7 980.7,334.6 980.7,370.4 979.3,369.5" fill="#94c416" stroke="#0c0c04" stroke-width="0.5" stroke-linejoin="round"/><polygon points="980.7,334.6 984.6,332.3 984.6,368.1 980.7,370.4" fill="#a9df1a" stroke="#0c0c04" stroke-width="0.5" stroke-linejoin="round"/><polygon points="979.3,333.7 983.2,331.5 984.6,332.3 980.7,334.6" fill="#a9df1a" stroke="#0c0c04" stroke-width="0.5" stroke-linejoin="round"/><polygon points="898.9,295.3 900.3,296.1 900.3,331.9 898.9,331.1" fill="#b7c70b" stroke="#0c0c04" stroke-width="0.5" stroke-linejoin="round"/><polygon points="900.3,296.1 904.2,293.8 904.2,329.6 900.3,331.9" fill="#d0e30d" stroke="#0c0c04" stroke-width="0.5" stroke-linejoin="round"/><polygon points="898.9,295.3 902.8,293.0 904.2,293.8 900.3,296.1" fill="#d0e30d" stroke="#0c0c04" stroke-width="0.5" stroke-linejoin="round"/><polygon points="906.2,299.6 907.6,300.4 907.6,336.2 906.2,335.4" fill="#b3c60c" stroke="#0c0c04" stroke-width="0.5" stroke-linejoin="round"/><polygon points="907.6,300.4 911.5,298.1 911.5,333.9 907.6,336.2" fill="#cce20e" stroke="#0c0c04" stroke-width="0.5" stroke-linejoin="round"/><polygon points="906.2,299.6 910.1,297.3 911.5,298.1 907.6,300.4" fill="#cce20e" stroke="#0c0c04" stroke-width="0.5" stroke-linejoin="round"/><polygon points="913.5,303.8 914.9,304.7 914.9,340.5 913.5,339.6" fill="#b0c60d" stroke="#0c0c04" stroke-width="0.5" stroke-linejoin="round"/><polygon points="914.9,304.7 918.8,302.4 918.8,338.2 914.9,340.5" fill="#c9e20f" stroke="#0c0c04" stroke-width="0.5" stroke-linejoin="round"/><polygon points="913.5,303.8 917.4,301.5 918.8,302.4 914.9,304.7" fill="#c9e20f" stroke="#0c0c04" stroke-width="0.5" stroke-linejoin="round"/><polygon points="920.8,308.1 922.3,308.9 922.3,344.7 920.8,343.9" fill="#aec60d" stroke="#0c0c04" stroke-width="0.5" stroke-linejoin="round"/><polygon points="922.3,308.9 926.1,306.6 926.1,342.4 922.3,344.7" fill="#c6e20f" stroke="#0c0c04" stroke-width="0.5" stroke-linejoin="round"/><polygon points="920.8,308.1 924.7,305.8 926.1,306.6 922.3,308.9" fill="#c6e20f" stroke="#0c0c04" stroke-width="0.5" stroke-linejoin="round"/><polygon points="928.1,312.4 929.6,313.2 929.6,349.0 928.1,348.2" fill="#aac60e" stroke="#0c0c04" stroke-width="0.5" stroke-linejoin="round"/><polygon points="929.6,313.2 933.5,310.9 933.5,346.7 929.6,349.0" fill="#c2e110" stroke="#0c0c04" stroke-width="0.5" stroke-linejoin="round"/><polygon points="928.1,312.4 932.0,310.1 933.5,310.9 929.6,313.2" fill="#c2e110" stroke="#0c0c04" stroke-width="0.5" stroke-linejoin="round"/><polygon points="935.5,316.6 936.9,317.5 936.9,353.3 935.5,352.4" fill="#a8c60f" stroke="#0c0c04" stroke-width="0.5" stroke-linejoin="round"/><polygon points="936.9,317.5 940.8,315.2 940.8,351.0 936.9,353.3" fill="#bfe112" stroke="#0c0c04" stroke-width="0.5" stroke-linejoin="round"/><polygon points="935.5,316.6 939.3,314.4 940.8,315.2 936.9,317.5" fill="#bfe112" stroke="#0c0c04" stroke-width="0.5" stroke-linejoin="round"/><polygon points="942.8,320.9 944.2,321.7 944.2,357.5 942.8,356.7" fill="#a5c610" stroke="#0c0c04" stroke-width="0.5" stroke-linejoin="round"/><polygon points="944.2,321.7 948.1,319.5 948.1,355.3 944.2,357.5" fill="#bce113" stroke="#0c0c04" stroke-width="0.5" stroke-linejoin="round"/><polygon points="942.8,320.9 946.7,318.6 948.1,319.5 944.2,321.7" fill="#bce113" stroke="#0c0c04" stroke-width="0.5" stroke-linejoin="round"/><polygon points="950.1,325.2 951.5,326.0 951.5,361.8 950.1,361.0" fill="#a1c511" stroke="#0c0c04" stroke-width="0.5" stroke-linejoin="round"/><polygon points="951.5,326.0 955.4,323.7 955.4,359.5 951.5,361.8" fill="#b8e014" stroke="#0c0c04" stroke-width="0.5" stroke-linejoin="round"/><polygon points="950.1,325.2 954.0,322.9 955.4,323.7 951.5,326.0" fill="#b8e014" stroke="#0c0c04" stroke-width="0.5" stroke-linejoin="round"/><polygon points="957.4,329.5 958.8,330.3 958.8,366.1 957.4,365.3" fill="#9fc512" stroke="#0c0c04" stroke-width="0.5" stroke-linejoin="round"/><polygon points="958.8,330.3 962.7,328.0 962.7,363.8 958.8,366.1" fill="#b5e015" stroke="#0c0c04" stroke-width="0.5" stroke-linejoin="round"/><polygon points="957.4,329.5 961.3,327.2 962.7,328.0 958.8,330.3" fill="#b5e015" stroke="#0c0c04" stroke-width="0.5" stroke-linejoin="round"/><polygon points="964.7,333.7 966.1,334.6 966.1,370.4 964.7,369.5" fill="#9bc413" stroke="#0c0c04" stroke-width="0.5" stroke-linejoin="round"/><polygon points="966.1,334.6 970.0,332.3 970.0,368.1 966.1,370.4" fill="#b1df16" stroke="#0c0c04" stroke-width="0.5" stroke-linejoin="round"/><polygon points="964.7,333.7 968.6,331.5 970.0,332.3 966.1,334.6" fill="#b1df16" stroke="#0c0c04" stroke-width="0.5" stroke-linejoin="round"/><polygon points="972.0,338.0 973.4,338.8 973.4,374.6 972.0,373.8" fill="#99c415" stroke="#0c0c04" stroke-width="0.5" stroke-linejoin="round"/><polygon points="973.4,338.8 977.3,336.6 977.3,372.4 973.4,374.6" fill="#aedf18" stroke="#0c0c04" stroke-width="0.5" stroke-linejoin="round"/><polygon points="972.0,338.0 975.9,335.7 977.3,336.6 973.4,338.8" fill="#aedf18" stroke="#0c0c04" stroke-width="0.5" stroke-linejoin="round"/><polygon points="891.6,299.5 893.1,300.4 893.1,336.2 891.6,335.3" fill="#bcc709" stroke="#0c0c04" stroke-width="0.5" stroke-linejoin="round"/><polygon points="893.1,300.4 896.9,298.1 896.9,333.9 893.1,336.2" fill="#d6e30b" stroke="#0c0c04" stroke-width="0.5" stroke-linejoin="round"/><polygon points="891.6,299.5 895.5,297.3 896.9,298.1 893.1,300.4" fill="#d6e30b" stroke="#0c0c04" stroke-width="0.5" stroke-linejoin="round"/><polygon points="899.0,303.8 900.4,304.6 900.4,340.4 899.0,339.6" fill="#b8c70a" stroke="#0c0c04" stroke-width="0.5" stroke-linejoin="round"/><polygon points="900.4,304.6 904.3,302.4 904.3,338.2 900.4,340.4" fill="#d2e30c" stroke="#0c0c04" stroke-width="0.5" stroke-linejoin="round"/><polygon points="899.0,303.8 902.8,301.5 904.3,302.4 900.4,304.6" fill="#d2e30c" stroke="#0c0c04" stroke-width="0.5" stroke-linejoin="round"/><polygon points="906.3,308.1 907.7,308.9 907.7,344.7 906.3,343.9" fill="#b5c70b" stroke="#0c0c04" stroke-width="0.5" stroke-linejoin="round"/><polygon points="907.7,308.9 911.6,306.6 911.6,342.4 907.7,344.7" fill="#cee30d" stroke="#0c0c04" stroke-width="0.5" stroke-linejoin="round"/><polygon points="906.3,308.1 910.1,305.8 911.6,306.6 907.7,308.9" fill="#cee30d" stroke="#0c0c04" stroke-width="0.5" stroke-linejoin="round"/><polygon points="913.6,312.4 915.0,313.2 915.0,349.0 913.6,348.2" fill="#b2c60c" stroke="#0c0c04" stroke-width="0.5" stroke-linejoin="round"/><polygon points="915.0,313.2 918.9,310.9 918.9,346.7 915.0,349.0" fill="#cbe20e" stroke="#0c0c04" stroke-width="0.5" stroke-linejoin="round"/><polygon points="913.6,312.4 917.5,310.1 918.9,310.9 915.0,313.2" fill="#cbe20e" stroke="#0c0c04" stroke-width="0.5" stroke-linejoin="round"/><polygon points="920.9,316.6 922.3,317.5 922.3,353.3 920.9,352.4" fill="#b0c60d" stroke="#0c0c04" stroke-width="0.5" stroke-linejoin="round"/><polygon points="922.3,317.5 926.2,315.2 926.2,351.0 922.3,353.3" fill="#c8e20f" stroke="#0c0c04" stroke-width="0.5" stroke-linejoin="round"/><polygon points="920.9,316.6 924.8,314.3 926.2,315.2 922.3,317.5" fill="#c8e20f" stroke="#0c0c04" stroke-width="0.5" stroke-linejoin="round"/><polygon points="928.2,320.9 929.6,321.7 929.6,357.5 928.2,356.7" fill="#adc60e" stroke="#0c0c04" stroke-width="0.5" stroke-linejoin="round"/><polygon points="929.6,321.7 933.5,319.5 933.5,355.3 929.6,357.5" fill="#c5e210" stroke="#0c0c04" stroke-width="0.5" stroke-linejoin="round"/><polygon points="928.2,320.9 932.1,318.6 933.5,319.5 929.6,321.7" fill="#c5e210" stroke="#0c0c04" stroke-width="0.5" stroke-linejoin="round"/><polygon points="935.5,325.2 936.9,326.0 936.9,361.8 935.5,361.0" fill="#a9c60e" stroke="#0c0c04" stroke-width="0.5" stroke-linejoin="round"/><polygon points="936.9,326.0 940.8,323.7 940.8,359.5 936.9,361.8" fill="#c1e111" stroke="#0c0c04" stroke-width="0.5" stroke-linejoin="round"/><polygon points="935.5,325.2 939.4,322.9 940.8,323.7 936.9,326.0" fill="#c1e111" stroke="#0c0c04" stroke-width="0.5" stroke-linejoin="round"/><polygon points="942.8,329.4 944.3,330.3 944.3,366.1 942.8,365.2" fill="#a6c60f" stroke="#0c0c04" stroke-width="0.5" stroke-linejoin="round"/><polygon points="944.3,330.3 948.1,328.0 948.1,363.8 944.3,366.1" fill="#bde112" stroke="#0c0c04" stroke-width="0.5" stroke-linejoin="round"/><polygon points="942.8,329.4 946.7,327.2 948.1,328.0 944.3,330.3" fill="#bde112" stroke="#0c0c04" stroke-width="0.5" stroke-linejoin="round"/><polygon points="950.1,333.7 951.6,334.6 951.6,370.4 950.1,369.5" fill="#a4c510" stroke="#0c0c04" stroke-width="0.5" stroke-linejoin="round"/><polygon points="951.6,334.6 955.5,332.3 955.5,368.1 951.6,370.4" fill="#bbe013" stroke="#0c0c04" stroke-width="0.5" stroke-linejoin="round"/><polygon points="950.1,333.7 954.0,331.4 955.5,332.3 951.6,334.6" fill="#bbe013" stroke="#0c0c04" stroke-width="0.5" stroke-linejoin="round"/><polygon points="957.5,338.0 958.9,338.8 958.9,374.6 957.5,373.8" fill="#a1c511" stroke="#0c0c04" stroke-width="0.5" stroke-linejoin="round"/><polygon points="958.9,338.8 962.8,336.5 962.8,372.3 958.9,374.6" fill="#b7e014" stroke="#0c0c04" stroke-width="0.5" stroke-linejoin="round"/><polygon points="957.5,338.0 961.3,335.7 962.8,336.5 958.9,338.8" fill="#b7e014" stroke="#0c0c04" stroke-width="0.5" stroke-linejoin="round"/><polygon points="964.8,342.3 966.2,343.1 966.2,378.9 964.8,378.1" fill="#9ec513" stroke="#0c0c04" stroke-width="0.5" stroke-linejoin="round"/><polygon points="966.2,343.1 970.1,340.8 970.1,376.6 966.2,378.9" fill="#b4e016" stroke="#0c0c04" stroke-width="0.5" stroke-linejoin="round"/><polygon points="964.8,342.3 968.7,340.0 970.1,340.8 966.2,343.1" fill="#b4e016" stroke="#0c0c04" stroke-width="0.5" stroke-linejoin="round"/><polygon points="884.4,303.8 885.8,304.6 885.8,340.4 884.4,339.6" fill="#c0c807" stroke="#0c0c04" stroke-width="0.5" stroke-linejoin="round"/><polygon points="885.8,304.6 889.7,302.3 889.7,338.1 885.8,340.4" fill="#dbe409" stroke="#0c0c04" stroke-width="0.5" stroke-linejoin="round"/><polygon points="884.4,303.8 888.3,301.5 889.7,302.3 885.8,304.6" fill="#dbe409" stroke="#0c0c04" stroke-width="0.5" stroke-linejoin="round"/><polygon points="891.7,308.1 893.1,308.9 893.1,344.7 891.7,343.9" fill="#bec808" stroke="#0c0c04" stroke-width="0.5" stroke-linejoin="round"/><polygon points="893.1,308.9 897.0,306.6 897.0,342.4 893.1,344.7" fill="#d8e40a" stroke="#0c0c04" stroke-width="0.5" stroke-linejoin="round"/><polygon points="891.7,308.1 895.6,305.8 897.0,306.6 893.1,308.9" fill="#d8e40a" stroke="#0c0c04" stroke-width="0.5" stroke-linejoin="round"/><polygon points="899.0,312.3 900.4,313.2 900.4,349.0 899.0,348.1" fill="#bac709" stroke="#0c0c04" stroke-width="0.5" stroke-linejoin="round"/><polygon points="900.4,313.2 904.3,310.9 904.3,346.7 900.4,349.0" fill="#d4e30b" stroke="#0c0c04" stroke-width="0.5" stroke-linejoin="round"/><polygon points="899.0,312.3 902.9,310.1 904.3,310.9 900.4,313.2" fill="#d4e30b" stroke="#0c0c04" stroke-width="0.5" stroke-linejoin="round"/><polygon points="906.3,316.6 907.7,317.4 907.7,353.2 906.3,352.4" fill="#b7c70a" stroke="#0c0c04" stroke-width="0.5" stroke-linejoin="round"/><polygon points="907.7,317.4 911.6,315.2 911.6,351.0 907.7,353.2" fill="#d1e30c" stroke="#0c0c04" stroke-width="0.5" stroke-linejoin="round"/><polygon points="906.3,316.6 910.2,314.3 911.6,315.2 907.7,317.4" fill="#d1e30c" stroke="#0c0c04" stroke-width="0.5" stroke-linejoin="round"/><polygon points="913.6,320.9 915.1,321.7 915.1,357.5 913.6,356.7" fill="#b4c60b" stroke="#0c0c04" stroke-width="0.5" stroke-linejoin="round"/><polygon points="915.1,321.7 918.9,319.4 918.9,355.2 915.1,357.5" fill="#cde20d" stroke="#0c0c04" stroke-width="0.5" stroke-linejoin="round"/><polygon points="913.6,320.9 917.5,318.6 918.9,319.4 915.1,321.7" fill="#cde20d" stroke="#0c0c04" stroke-width="0.5" stroke-linejoin="round"/><polygon points="921.0,325.2 922.4,326.0 922.4,361.8 921.0,361.0" fill="#b2c60d" stroke="#0c0c04" stroke-width="0.5" stroke-linejoin="round"/><polygon points="922.4,326.0 926.3,323.7 926.3,359.5 922.4,361.8" fill="#cbe20f" stroke="#0c0c04" stroke-width="0.5" stroke-linejoin="round"/><polygon points="921.0,325.2 924.8,322.9 926.3,323.7 922.4,326.0" fill="#cbe20f" stroke="#0c0c04" stroke-width="0.5" stroke-linejoin="round"/><polygon points="928.3,329.4 929.7,330.3 929.7,366.1 928.3,365.2" fill="#afc60d" stroke="#0c0c04" stroke-width="0.5" stroke-linejoin="round"/><polygon points="929.7,330.3 933.6,328.0 933.6,363.8 929.7,366.1" fill="#c7e20f" stroke="#0c0c04" stroke-width="0.5" stroke-linejoin="round"/><polygon points="928.3,329.4 932.2,327.2 933.6,328.0 929.7,330.3" fill="#c7e20f" stroke="#0c0c04" stroke-width="0.5" stroke-linejoin="round"/><polygon points="935.6,333.7 937.0,334.5 937.0,370.3 935.6,369.5" fill="#abc60e" stroke="#0c0c04" stroke-width="0.5" stroke-linejoin="round"/><polygon points="937.0,334.5 940.9,332.3 940.9,368.1 937.0,370.3" fill="#c3e110" stroke="#0c0c04" stroke-width="0.5" stroke-linejoin="round"/><polygon points="935.6,333.7 939.5,331.4 940.9,332.3 937.0,334.5" fill="#c3e110" stroke="#0c0c04" stroke-width="0.5" stroke-linejoin="round"/><polygon points="942.9,338.0 944.3,338.8 944.3,374.6 942.9,373.8" fill="#a8c60e" stroke="#0c0c04" stroke-width="0.5" stroke-linejoin="round"/><polygon points="944.3,338.8 948.2,336.5 948.2,372.3 944.3,374.6" fill="#c0e111" stroke="#0c0c04" stroke-width="0.5" stroke-linejoin="round"/><polygon points="942.9,338.0 946.8,335.7 948.2,336.5 944.3,338.8" fill="#c0e111" stroke="#0c0c04" stroke-width="0.5" stroke-linejoin="round"/><polygon points="950.2,342.2 951.6,343.1 951.6,378.9 950.2,378.0" fill="#a5c60f" stroke="#0c0c04" stroke-width="0.5" stroke-linejoin="round"/><polygon points="951.6,343.1 955.5,340.8 955.5,376.6 951.6,378.9" fill="#bce112" stroke="#0c0c04" stroke-width="0.5" stroke-linejoin="round"/><polygon points="950.2,342.2 954.1,340.0 955.5,340.8 951.6,343.1" fill="#bce112" stroke="#0c0c04" stroke-width="0.5" stroke-linejoin="round"/><polygon points="957.5,346.5 958.9,347.4 958.9,383.2 957.5,382.3" fill="#a3c511" stroke="#0c0c04" stroke-width="0.5" stroke-linejoin="round"/><polygon points="958.9,347.4 962.8,345.1 962.8,380.9 958.9,383.2" fill="#bae014" stroke="#0c0c04" stroke-width="0.5" stroke-linejoin="round"/><polygon points="957.5,346.5 961.4,344.2 962.8,345.1 958.9,347.4" fill="#bae014" stroke="#0c0c04" stroke-width="0.5" stroke-linejoin="round"/><polygon points="868.2,313.3 869.6,314.1 869.6,349.9 868.2,349.1" fill="#d3d607" stroke="#0c0c04" stroke-width="0.5" stroke-linejoin="round"/><polygon points="869.6,314.1 882.6,306.5 882.6,342.3 869.6,349.9" fill="#f0f408" stroke="#0c0c04" stroke-width="0.5" stroke-linejoin="round"/><polygon points="868.2,313.3 881.1,305.7 882.6,306.5 869.6,314.1" fill="#f0f408" stroke="#0c0c04" stroke-width="0.5" stroke-linejoin="round"/><polygon points="875.5,317.6 876.9,318.4 876.9,354.2 875.5,353.4" fill="#cfd507" stroke="#0c0c04" stroke-width="0.5" stroke-linejoin="round"/><polygon points="876.9,318.4 889.9,310.8 889.9,346.6 876.9,354.2" fill="#ecf309" stroke="#0c0c04" stroke-width="0.5" stroke-linejoin="round"/><polygon points="875.5,317.6 888.5,310.0 889.9,310.8 876.9,318.4" fill="#ecf309" stroke="#0c0c04" stroke-width="0.5" stroke-linejoin="round"/><polygon points="882.8,321.8 884.3,322.7 884.3,358.5 882.8,357.6" fill="#ccd508" stroke="#0c0c04" stroke-width="0.5" stroke-linejoin="round"/><polygon points="884.3,322.7 897.2,315.1 897.2,350.9 884.3,358.5" fill="#e8f30a" stroke="#0c0c04" stroke-width="0.5" stroke-linejoin="round"/><polygon points="882.8,321.8 895.8,314.2 897.2,315.1 884.3,322.7" fill="#e8f30a" stroke="#0c0c04" stroke-width="0.5" stroke-linejoin="round"/><polygon points="890.1,326.1 891.6,326.9 891.6,362.7 890.1,361.9" fill="#c9d409" stroke="#0c0c04" stroke-width="0.5" stroke-linejoin="round"/><polygon points="891.6,326.9 904.5,319.3 904.5,355.1 891.6,362.7" fill="#e5f20b" stroke="#0c0c04" stroke-width="0.5" stroke-linejoin="round"/><polygon points="890.1,326.1 903.1,318.5 904.5,319.3 891.6,326.9" fill="#e5f20b" stroke="#0c0c04" stroke-width="0.5" stroke-linejoin="round"/><polygon points="897.5,330.4 898.9,331.2 898.9,367.0 897.5,366.2" fill="#c6d40a" stroke="#0c0c04" stroke-width="0.5" stroke-linejoin="round"/><polygon points="898.9,331.2 911.8,323.6 911.8,359.4 898.9,367.0" fill="#e1f20c" stroke="#0c0c04" stroke-width="0.5" stroke-linejoin="round"/><polygon points="897.5,330.4 910.4,322.8 911.8,323.6 898.9,331.2" fill="#e1f20c" stroke="#0c0c04" stroke-width="0.5" stroke-linejoin="round"/><polygon points="904.8,334.7 906.2,335.5 906.2,371.3 904.8,370.5" fill="#c3d40c" stroke="#0c0c04" stroke-width="0.5" stroke-linejoin="round"/><polygon points="906.2,335.5 919.1,327.9 919.1,363.7 906.2,371.3" fill="#def20e" stroke="#0c0c04" stroke-width="0.5" stroke-linejoin="round"/><polygon points="904.8,334.7 917.7,327.1 919.1,327.9 906.2,335.5" fill="#def20e" stroke="#0c0c04" stroke-width="0.5" stroke-linejoin="round"/><polygon points="912.1,338.9 913.5,339.8 913.5,375.6 912.1,374.7" fill="#bfd40d" stroke="#0c0c04" stroke-width="0.5" stroke-linejoin="round"/><polygon points="913.5,339.8 926.5,332.2 926.5,368.0 913.5,375.6" fill="#daf10f" stroke="#0c0c04" stroke-width="0.5" stroke-linejoin="round"/><polygon points="912.1,338.9 925.0,331.3 926.5,332.2 913.5,339.8" fill="#daf10f" stroke="#0c0c04" stroke-width="0.5" stroke-linejoin="round"/><polygon points="919.4,343.2 920.8,344.0 920.8,379.8 919.4,379.0" fill="#bcd40e" stroke="#0c0c04" stroke-width="0.5" stroke-linejoin="round"/><polygon points="920.8,344.0 933.8,336.4 933.8,372.2 920.8,379.8" fill="#d6f110" stroke="#0c0c04" stroke-width="0.5" stroke-linejoin="round"/><polygon points="919.4,343.2 932.3,335.6 933.8,336.4 920.8,344.0" fill="#d6f110" stroke="#0c0c04" stroke-width="0.5" stroke-linejoin="round"/><polygon points="926.7,347.5 928.1,348.3 928.1,384.1 926.7,383.3" fill="#b9d40e" stroke="#0c0c04" stroke-width="0.5" stroke-linejoin="round"/><polygon points="928.1,348.3 941.1,340.7 941.1,376.5 928.1,384.1" fill="#d3f111" stroke="#0c0c04" stroke-width="0.5" stroke-linejoin="round"/><polygon points="926.7,347.5 939.7,339.9 941.1,340.7 928.1,348.3" fill="#d3f111" stroke="#0c0c04" stroke-width="0.5" stroke-linejoin="round"/><polygon points="934.0,351.8 935.4,352.6 935.4,388.4 934.0,387.6" fill="#b6d30f" stroke="#0c0c04" stroke-width="0.5" stroke-linejoin="round"/><polygon points="935.4,352.6 948.4,345.0 948.4,380.8 935.4,388.4" fill="#cff012" stroke="#0c0c04" stroke-width="0.5" stroke-linejoin="round"/><polygon points="934.0,351.8 947.0,344.2 948.4,345.0 935.4,352.6" fill="#cff012" stroke="#0c0c04" stroke-width="0.5" stroke-linejoin="round"/><polygon points="941.3,356.0 942.8,356.9 942.8,392.7 941.3,391.8" fill="#b3d311" stroke="#0c0c04" stroke-width="0.5" stroke-linejoin="round"/><polygon points="942.8,356.9 955.7,349.3 955.7,385.1 942.8,392.7" fill="#ccf014" stroke="#0c0c04" stroke-width="0.5" stroke-linejoin="round"/><polygon points="941.3,356.0 954.3,348.4 955.7,349.3 942.8,356.9" fill="#ccf014" stroke="#0c0c04" stroke-width="0.5" stroke-linejoin="round"/><polygon points="736.6,398.4 769.8,417.0 769.8,423.6 736.6,405.0" fill="#f4bc04" stroke="#0c0c04" stroke-width="0.85" stroke-linejoin="round"/><polygon points="769.8,417.0 802.4,397.9 802.4,404.5 769.8,423.6" fill="#f8c006" stroke="#0c0c04" stroke-width="0.85" stroke-linejoin="round"/><polygon points="769.0,379.0 736.6,398.4 769.8,417.0 802.4,397.9" fill="#ffc808" stroke="#0c0c04" stroke-width="0.85" stroke-linejoin="round"/><path d="M765.6 399.6 l1.6 1" stroke="#333" stroke-width="0.6"/><polygon points="825.2,423.5 870.7,450.3 870.7,451.9 825.2,425.1" fill="#ef8105" stroke="#0c0c04" stroke-width="0.85" stroke-linejoin="round"/><polygon points="870.7,450.3 916.0,423.6 916.0,425.2 870.7,451.9" fill="#f98705" stroke="#0c0c04" stroke-width="0.85" stroke-linejoin="round"/><polygon points="870.3,396.6 825.2,423.5 870.7,450.3 916.0,423.6" fill="#ff8a06" stroke="#0c0c04" stroke-width="0.85" stroke-linejoin="round"/><polygon points="684.3,439.7 711.3,455.8 711.3,457.8 684.3,441.7" fill="#ef7d07" stroke="#0c0c04" stroke-width="0.85" stroke-linejoin="round"/><polygon points="711.3,455.8 736.1,440.1 736.1,442.1 711.3,457.8" fill="#f98307" stroke="#0c0c04" stroke-width="0.85" stroke-linejoin="round"/><polygon points="711.3,423.7 684.3,439.7 711.3,455.8 736.1,440.1" fill="#ff8608" stroke="#0c0c04" stroke-width="0.85" stroke-linejoin="round"/><path d="M706.9 438.4 l1.8 1.2" stroke="#333" stroke-width="0.6"/><polygon points="753.7,445.1 757.8,442.9 776.7,454.5 757.8,467.1 753.7,465.9" fill="#ff9408" stroke="#0c0c04" stroke-width="0.6" stroke-linejoin="round"/><path d="M755.6 464.3 L771.0 453.9 M757.3 465.4 L772.6 455.5" stroke="#3a2808" stroke-width="0.7" fill="none" stroke-dasharray="1 0.6"/><polygon points="737.0,438.5 752.6,445.4 752.6,465.9 737.0,457.1" fill="#ffc600" stroke="#0c0c04" stroke-width="0.7" stroke-linejoin="round"/><ellipse cx="745.8" cy="455.6" rx="3.7" ry="5.2" fill="#ff9200" stroke="#222" stroke-width="0.6"/><path d="M739.7 440.7 L740.8 457.1" stroke="#222" stroke-width="0.7"/><path d="M730.7 425.6 L738.1 431.9 L751.5 442.9" stroke="#24481a" stroke-width="3.7" stroke-linecap="round" fill="none"/><path d="M745.8 418.8 L741.7 433.6" stroke="#182408" stroke-width="3.3" stroke-linecap="round" fill="none"/><path d="M751.8 422.3 L748.2 440.4" stroke="#182408" stroke-width="3.3" stroke-linecap="round" fill="none"/><path d="M757.4 425.6 L753.3 442.9" stroke="#182408" stroke-width="3.3" stroke-linecap="round" fill="none"/><path d="M748.2 440.4 L749.9 461.5 M752.6 442.9 L752.6 465.9 M739.2 439.6 Q738.6 451.7 741.7 457.7 M743.0 442.9 Q747.4 448.4 749.6 453.9" stroke="#1a1a0a" stroke-width="0.9" fill="none"/><path d="M745.8 418.8 L741.7 433.6 M751.8 422.3 L748.2 440.4 M757.4 425.6 L753.3 442.9" stroke="#3c6c2c" stroke-width="2.2" stroke-dasharray="0.7 1.1" fill="none"/><polygon points="763.9,437.2 784.5,449.0 784.5,452.2 763.9,440.4" fill="#ef900b" stroke="#0c0c04" stroke-width="0.85" stroke-linejoin="round"/><polygon points="784.5,449.0 796.8,441.8 796.8,445.0 784.5,452.2" fill="#f9960b" stroke="#0c0c04" stroke-width="0.85" stroke-linejoin="round"/><polygon points="776.1,429.6 763.9,437.2 784.5,449.0 796.8,441.8" fill="#ff9a0c" stroke="#0c0c04" stroke-width="0.85" stroke-linejoin="round"/><polygon points="890.0,489.0 1062.0,388.4 1062.0,397.4 890.0,498.0" fill="url(#arl)" stroke="#0c0c04" stroke-width="0.7" stroke-linejoin="round"/><polygon points="886.0,486.7 1058.0,386.1 1062.0,388.4 890.0,489.0" fill="#ffc02c" stroke="#0c0c04" stroke-width="0.6" stroke-linejoin="round"/><polygon points="885.0,432.6 888.4,434.6 888.4,486.6 885.0,484.6" fill="#ffa818" stroke="#0c0c04" stroke-width="0.6" stroke-linejoin="round"/><polygon points="885.0,432.6 1055.0,333.2 1058.4,335.2 888.4,434.6" fill="#ffb020" stroke="#0c0c04" stroke-width="0.6" stroke-linejoin="round"/><polygon points="888.4,434.6 1058.4,335.2 1058.4,387.2 888.4,486.6" fill="url(#adm)" stroke="#0c0c04" stroke-width="0.7" stroke-linejoin="round"/><polygon points="1044.0,341.5 1058.0,333.5 1060.5,335.0 1060.5,352.0 1046.5,360.0" fill="#ffb21c" stroke="#0c0c04" stroke-width="0.6" stroke-linejoin="round"/><polygon points="874.5,462.6 878.3,460.7 883.2,463.0 884.7,461.5 888.5,463.0 892.0,461.5 892.0,485.2 895.5,487.7 895.5,492.2 886.3,498.3 876.8,493.0 876.8,484.2 879.1,483.5 879.1,477.4 874.5,475.1" fill="#ffae12" stroke="#0c0c04" stroke-width="0.7" stroke-linejoin="round"/><polygon points="874.5,462.6 879.1,464.9 879.1,477.4 874.5,475.1" fill="#f8a40e" stroke="#0c0c04" stroke-width="0.6" stroke-linejoin="round"/><polygon points="874.5,462.6 878.3,460.7 883.2,463.0 879.1,464.9" fill="#ffbc20" stroke="#0c0c04" stroke-width="0.6" stroke-linejoin="round"/><polygon points="876.8,484.2 879.1,483.5 883.2,487.2 886.3,488.8 886.3,498.3 876.8,493.0" fill="#f8a40e" stroke="#0c0c04" stroke-width="0.6" stroke-linejoin="round"/><path d="M883.2 463.0V487.2 M886.3 488.8L892.0 485.2L895.5 487.7" stroke="#222" stroke-width="0.6" fill="none"/><polygon points="903.2,443.6 906.6,445.6 906.6,495.6 903.2,493.6" fill="#ffa818" stroke="#0c0c04" stroke-width="0.6" stroke-linejoin="round"/><polygon points="903.2,443.6 1073.2,344.2 1076.6,346.2 906.6,445.6" fill="#ffb020" stroke="#0c0c04" stroke-width="0.6" stroke-linejoin="round"/><polygon points="906.6,445.6 1076.6,346.2 1076.6,396.2 906.6,495.6" fill="url(#adm)" stroke="#0c0c04" stroke-width="0.7" stroke-linejoin="round"/><polygon points="909.5,496.0 1085.5,393.0 1085.5,406.5 909.5,509.5" fill="url(#arl)" stroke="#0c0c04" stroke-width="0.7" stroke-linejoin="round"/><polygon points="905.5,493.7 1081.5,390.7 1085.5,393.0 909.5,496.0" fill="#ffc02c" stroke="#0c0c04" stroke-width="0.6" stroke-linejoin="round"/><polygon points="1075.0,379.0 1083.4,374.0 1083.4,391.0 1075.0,396.0" fill="#ffb820" stroke="#0c0c04" stroke-width="0.6" stroke-linejoin="round"/><polygon points="893.1,472.5 896.9,470.6 901.8,472.9 903.3,471.4 907.1,472.9 910.6,471.4 910.6,495.1 914.1,497.6 914.1,502.1 904.9,508.2 895.4,502.9 895.4,494.1 897.7,493.4 897.7,487.3 893.1,485.0" fill="#ffae12" stroke="#0c0c04" stroke-width="0.7" stroke-linejoin="round"/><polygon points="893.1,472.5 897.7,474.8 897.7,487.3 893.1,485.0" fill="#f8a40e" stroke="#0c0c04" stroke-width="0.6" stroke-linejoin="round"/><polygon points="893.1,472.5 896.9,470.6 901.8,472.9 897.7,474.8" fill="#ffbc20" stroke="#0c0c04" stroke-width="0.6" stroke-linejoin="round"/><polygon points="895.4,494.1 897.7,493.4 901.8,497.1 904.9,498.7 904.9,508.2 895.4,502.9" fill="#f8a40e" stroke="#0c0c04" stroke-width="0.6" stroke-linejoin="round"/><path d="M901.8 472.9V497.1 M904.9 498.7L910.6 495.1L914.1 497.6" stroke="#222" stroke-width="0.6" fill="none"/><polygon points="822.3,468.9 834.4,476.5 834.4,479.5 822.3,471.9" fill="#ef7209" stroke="#0c0c04" stroke-width="0.85" stroke-linejoin="round"/><polygon points="834.4,476.5 850.4,466.7 850.4,469.7 834.4,479.5" fill="#f97709" stroke="#0c0c04" stroke-width="0.85" stroke-linejoin="round"/><polygon points="838.6,459.1 822.3,468.9 834.4,476.5 850.4,466.7" fill="#ff7a0a" stroke="#0c0c04" stroke-width="0.85" stroke-linejoin="round"/><polygon points="794.8,480.4 811.6,489.5 811.6,491.9 794.8,482.8" fill="#ef4b05" stroke="#0c0c04" stroke-width="0.85" stroke-linejoin="round"/><polygon points="811.6,489.5 822.6,483.2 822.6,485.6 811.6,491.9" fill="#f94e05" stroke="#0c0c04" stroke-width="0.85" stroke-linejoin="round"/><polygon points="805.7,474.3 794.8,480.4 811.6,489.5 822.6,483.2" fill="#ff5006" stroke="#0c0c04" stroke-width="0.85" stroke-linejoin="round"/><polygon points="752.3,485.8 764.1,492.8 764.1,495.8 752.3,488.8" fill="#ef870b" stroke="#0c0c04" stroke-width="0.85" stroke-linejoin="round"/><polygon points="764.1,492.8 784.8,480.2 784.8,483.2 764.1,495.8" fill="#f98d0b" stroke="#0c0c04" stroke-width="0.85" stroke-linejoin="round"/><polygon points="772.8,473.1 752.3,485.8 764.1,492.8 784.8,480.2" fill="#ff900c" stroke="#0c0c04" stroke-width="0.85" stroke-linejoin="round"/><polygon points="773.0,498.4 784.3,505.2 784.3,508.2 773.0,501.4" fill="#ef7609" stroke="#0c0c04" stroke-width="0.85" stroke-linejoin="round"/><polygon points="784.3,505.2 805.4,492.5 805.4,495.5 784.3,508.2" fill="#f97b09" stroke="#0c0c04" stroke-width="0.85" stroke-linejoin="round"/><polygon points="794.4,485.8 773.0,498.4 784.3,505.2 805.4,492.5" fill="#ff7e0a" stroke="#0c0c04" stroke-width="0.85" stroke-linejoin="round"/><polygon points="810.5,520.3 845.4,540.6 845.4,543.9 810.5,523.6" fill="#f01c00" stroke="#0c0c04" stroke-width="0.85" stroke-linejoin="round"/><polygon points="845.4,540.6 880.4,520.3 880.4,523.6 845.4,543.9" fill="#f61e00" stroke="#0c0c04" stroke-width="0.85" stroke-linejoin="round"/><polygon points="845.4,498.9 810.5,520.3 845.4,540.6 880.4,520.3" fill="#ff2200" stroke="#0c0c04" stroke-width="0.85" stroke-linejoin="round"/><path d="M865.7 248 L881.5 232.5" stroke="#222" stroke-width="0.8" fill="none"/><rect x="881.8" y="232.4" width="190.0" height="37.0" fill="#d6cc88" stroke="#111" stroke-width="1.6"/><text x="886.0" y="246.9" class="lt" textLength="182.5" lengthAdjust="spacingAndGlyphs">Position(mm):19.63, 44.55, -203.2</text><text x="886.0" y="265.0" class="lt" textLength="56.5" lengthAdjust="spacingAndGlyphs">T: 35.97 °C</text><path d="M928 357 L941 345" stroke="#333" stroke-width="0.7" fill="none"/><rect x="941.5" y="342.4" width="190.0" height="36.8" fill="#d6cc88" stroke="#111" stroke-width="1.6"/><text x="945.7" y="356.9" class="lt" textLength="182.5" lengthAdjust="spacingAndGlyphs">Position(mm):84.81, 13.6, -184.57</text><text x="945.7" y="375.0" class="lt" textLength="56.5" lengthAdjust="spacingAndGlyphs">T: 65.37 °C</text></g><g stroke-linecap="butt"><path d="M538.6 594.4V561" stroke="#0a9a34" stroke-width="5.4"/><path d="M538.6 545.2l-8.4 15.2q8.4 3 16.8 0z" fill="#0a9a34"/><path d="M539.6 592.0L509.6 611.2" stroke="#1c18dc" stroke-width="5.4"/><path d="M497.8 617.2l8.6-13.6 7.6 13.4q-8 2-16.2 0.200z" fill="#1c18dc"/><path d="M537.6 592.0L568 611.2" stroke="#de1c1c" stroke-width="5.4"/><path d="M579.4 617.2l-8.6-13.6-7.6 13.4q8 2 16.2 0.200z" fill="#de1c1c"/><text x="537.6" y="542" font-family="Liberation Sans,sans-serif" font-size="8.6" fill="#222">Y</text><text x="490" y="629" font-family="Liberation Sans,sans-serif" font-size="8.6" fill="#222">Z</text><text x="586.6" y="629" font-family="Liberation Sans,sans-serif" font-size="8.6" fill="#222">X</text></g><defs><linearGradient id="acb" x1="0" y1="0" x2="0" y2="1"><stop offset="0" stop-color="#ff0000"/><stop offset="0.1" stop-color="#ff2800"/><stop offset="0.2" stop-color="#ff4800"/><stop offset="0.3" stop-color="#ff8000"/><stop offset="0.35" stop-color="#ff9c00"/><stop offset="0.4" stop-color="#ffb800"/><stop offset="0.45" stop-color="#ffd400"/><stop offset="0.495" stop-color="#fff000"/><stop offset="0.555" stop-color="#e0ff00"/><stop offset="0.605" stop-color="#c8ff08"/><stop offset="0.67" stop-color="#a0ff20"/><stop offset="0.735" stop-color="#78ff38"/><stop offset="0.805" stop-color="#48f860"/><stop offset="0.855" stop-color="#20f080"/><stop offset="0.905" stop-color="#00e0a8"/><stop offset="0.935" stop-color="#08a8c8"/><stop offset="0.965" stop-color="#0870e0"/><stop offset="1" stop-color="#0030ff"/></linearGradient><linearGradient id="aga" x1="0" y1="0" x2="1" y2="0"><stop offset="0" stop-color="#8a8a8a"/><stop offset="0.5" stop-color="#e4e4e4"/><stop offset="1" stop-color="#707070"/></linearGradient></defs><rect x="1157.6" y="161.2" width="16.4" height="371.8" fill="url(#acb)"/><rect x="1197.8" y="556.6" width="5.2" height="32" rx="1.6" fill="url(#aga)" stroke="#6a6a6a" stroke-width="0.5"/><path d="M1193.4 586.6h13.6l-6.6 10.4z" fill="#5c5c5c"/><text x="1199.6" y="599.4" font-family="Liberation Sans,sans-serif" font-size="6.6" font-weight="bold" fill="#222">G</text></svg><div class="abs" style="left:1128.4px;top:133.6px;font-size:12.4px;color:#3a3a3a;white-space:nowrap;letter-spacing:-0.45px;line-height:16px">Scalar T ( °C )</div><div class="cbl" style="left:1178.4px;top:157.8px">65.37</div><div class="cbl" style="left:1178.4px;top:232.3px">59.49</div><div class="cbl" style="left:1178.4px;top:306.4px">53.61</div><div class="cbl" style="left:1178.4px;top:381.0px">47.73</div><div class="cbl" style="left:1178.4px;top:455.0px">41.85</div><div class="cbl" style="left:1178.4px;top:529.0px">35.97</div><svg class="abs" style="left:17.8px;top:427.7px" width="360" height="360" viewBox="17.8 427.7 360 360"><defs><filter id="abl" x="-30%" y="-30%" width="160%" height="160%"><feGaussianBlur stdDeviation="11"/></filter><clipPath id="amc"><circle cx="187.8" cy="597.7" r="109.5"/></clipPath></defs><circle cx="195.8" cy="612.7" r="112.2" fill="#1c2c48" opacity="0.30" filter="url(#abl)"/><defs><clipPath id="amu"><path d="M119.00 509.07L119.26 472.03L146.51 493.37A112.20 112.20 0 1 1 119.00 509.07Z"/></clipPath></defs><path d="M119.00 509.07L119.26 472.03L146.51 493.37A112.20 112.20 0 1 1 119.00 509.07Z" fill="#fff"/><g clip-path="url(#amu)"><path d="M119 512.5H310" stroke="#d2d2d2" stroke-width="1.2" fill="none"/><path d="M300.0 544.2H92.0V651.2H300.0" fill="#fff" stroke="#3874c8" stroke-width="1.5"/></g><path d="M119.00 509.07L119.26 472.03L146.51 493.37A112.20 112.20 0 1 1 119.00 509.07Z" fill="none" stroke="#cae5f4" stroke-width="6.0" stroke-linejoin="miter" stroke-miterlimit="8"/></svg><span class="abs" style="left:131px;top:573.4px;font-size:42.6px;color:#333;letter-spacing:-1px;line-height:48px;white-space:nowrap;-webkit-text-stroke:0.5px #333">AI</span><svg class="cj" role="img" aria-label="预测" style="left:170.20px;top:572.20px" width="82.0" height="58.0" viewBox="0 0 82.0 58.0"><title>预测</title><text x="0" y="40" font-size="40" fill="#333">预测</text></svg></div><div class="win" style="transform:translate(1352.40px,0) scaleX(1.01210) translate(-16.30px,0)"><div class="frame"></div><div class="ttl">Test</div><svg class="abs" style="left:1180px;top:20px" width="130" height="24" viewBox="1180 20 130 24"><g fill="none" stroke="#2a2a2a" stroke-width="1.05"><path d="M1197.3 31.5h9.6"/><rect x="1244.4" y="27" width="9.2" height="9.2" rx="1.6"/><path d="M1292.2 26.6l9.8 9.8M1302 26.6l-9.8 9.8"/></g></svg><div class="tline"></div><div class="tab" style="left:17.5px;top:49.6px;width:63px;height:20.4px"></div><svg class="cj" role="img" aria-label="参数设置" style="left:32.40px;top:53.90px" width="40.8" height="14.1" viewBox="0 0 40.8 14.1"><title>参数设置</title><text x="0" y="9.7" font-size="9.7" fill="#111">参数设置</text></svg><div class="abs" style="left:80.5px;top:68.9px;width:385px;height:1.3px;background:#4a4a4a"></div><div class="panel" style="left:17.6px;top:70.1px;width:447px;height:612.6px;border-left:1.6px solid #555;border-bottom:1.2px solid #444"></div><div class="gb" style="left:40.4px;top:94.2px;width:397.4px;height:196.6px"></div><div class="abs" style="left:45.5px;top:88px;width:50px;height:13px;background:#fff"></div><svg class="cj" role="img" aria-label="芯片功耗" style="left:48.20px;top:87.50px" width="46.4" height="16.1" viewBox="0 0 46.4 16.1"><title>芯片功耗</title><text class="sf" x="0" y="11.1" font-size="11.1" font-weight="500" fill="#2878c8">芯片功耗</text></svg><div class="gb" style="left:40.4px;top:324.2px;width:397.4px;height:91.4px"></div><div class="abs" style="left:45.5px;top:318px;width:61.5px;height:13px;background:#fff"></div><svg class="cj" role="img" aria-label="其它热参数" style="left:48.20px;top:317.40px" width="58.0" height="16.2" viewBox="0 0 58.0 16.2"><title>其它热参数</title><text class="sf" x="0" y="11.2" font-size="11.2" font-weight="500" fill="#2878c8">其它热参数</text></svg><span class="lab" style="left:60.7px;top:114.3px" >CPU</span><svg class="cj" role="img" aria-label="功耗" style="left:81.90px;top:114.10px" width="22.8" height="15.1" viewBox="0 0 22.8 15.1"><title>功耗</title><text class="sf" x="0" y="10.4" font-size="10.4" fill="#222">功耗</text></svg><div class="inp" style="left:108.9px;top:111.0px;width:113.6px">19</div><div class="trk" style="left:64.0px;top:138.3px;width:155.2px"><i style="width:29.7px"></i></div><div class="knob" style="left:89.0px;top:134.5px"></div><span class="lab" style="left:255.2px;top:114.3px" >BGA</span><svg class="cj" role="img" aria-label="芯片功耗" style="left:278.10px;top:114.10px" width="43.6" height="15.1" viewBox="0 0 43.6 15.1"><title>芯片功耗</title><text class="sf" x="0" y="10.4" font-size="10.4" fill="#222">芯片功耗</text></svg><div class="inp" style="left:325.0px;top:111.0px;width:91.7px">1.5</div><div class="trk" style="left:258.0px;top:138.3px;width:155.0px"><i style="width:38.0px"></i></div><div class="knob" style="left:291.3px;top:134.5px"></div><span class="lab" style="left:60.7px;top:174.6px" >SOIC</span><svg class="cj" role="img" aria-label="封装功耗" style="left:85.40px;top:174.40px" width="43.6" height="15.1" viewBox="0 0 43.6 15.1"><title>封装功耗</title><text class="sf" x="0" y="10.4" font-size="10.4" fill="#222">封装功耗</text></svg><div class="inp" style="left:133.5px;top:171.3px;width:89.0px">0.6</div><div class="trk" style="left:64.0px;top:198.7px;width:155.2px"><i style="width:118.4px"></i></div><div class="knob" style="left:177.7px;top:194.9px"></div><span class="lab" style="left:255.2px;top:174.6px" >QFP</span><svg class="cj" role="img" aria-label="封装功耗" style="left:275.10px;top:174.40px" width="43.6" height="15.1" viewBox="0 0 43.6 15.1"><title>封装功耗</title><text class="sf" x="0" y="10.4" font-size="10.4" fill="#222">封装功耗</text></svg><div class="inp" style="left:323.7px;top:171.3px;width:93.0px">0.9</div><div class="trk" style="left:258.0px;top:198.7px;width:155.0px"><i style="width:62.3px"></i></div><div class="knob" style="left:315.6px;top:194.9px"></div><span class="lab" style="left:158.5px;top:236.4px" >TO-252</span><svg class="cj" role="img" aria-label="封装功耗" style="left:192.60px;top:236.20px" width="43.6" height="15.1" viewBox="0 0 43.6 15.1"><title>封装功耗</title><text class="sf" x="0" y="10.4" font-size="10.4" fill="#222">封装功耗</text></svg><div class="inp" style="left:241.7px;top:233.1px;width:78.6px">0.4</div><div class="trk" style="left:161.8px;top:260.7px;width:155.2px"><i style="width:38.2px"></i></div><div class="knob" style="left:195.3px;top:256.9px"></div><svg class="cj" role="img" aria-label="内存热功率" style="left:61.40px;top:344.00px" width="54.0" height="15.1" viewBox="0 0 54.0 15.1"><title>内存热功率</title><text class="sf" x="0" y="10.4" font-size="10.4" fill="#222">内存热功率</text></svg><div class="inp" style="left:118.7px;top:340.9px;width:103.8px">6</div><div class="trk" style="left:64.0px;top:369.0px;width:155.2px"><i style="width:110.6px"></i></div><div class="knob" style="left:169.9px;top:365.2px"></div><svg class="cj" role="img" aria-label="散热器导热系数" style="left:255.20px;top:344.00px" width="74.8" height="15.1" viewBox="0 0 74.8 15.1"><title>散热器导热系数</title><text class="sf" x="0" y="10.4" font-size="10.4" fill="#222">散热器导热系数</text></svg><div class="inp" style="left:333.8px;top:340.9px;width:82.9px">199</div><div class="trk" style="left:258.0px;top:369.0px;width:155.0px"><i style="width:75.1px"></i></div><div class="knob" style="left:328.4px;top:365.2px"></div><div class="btn" style="left:38.1px;top:436.5px;width:101.7px"></div><div class="btn sel" style="left:189.2px;top:436.5px;width:99.8px"></div><div class="btn" style="left:338.9px;top:436.5px;width:99.8px"></div><span class="lab" style="left:71.2px;top:455.0px;font-size:11.4px">AI</span><svg class="cj" role="img" aria-label="预测" style="left:83.40px;top:454.60px" width="24.6" height="16.4" viewBox="0 0 24.6 16.4"><title>预测</title><text class="sf" x="0" y="11.3" font-size="11.3" fill="#222">预测</text></svg><svg class="cj" role="img" aria-label="求解" style="left:227.80px;top:454.50px" width="24.8" height="16.5" viewBox="0 0 24.8 16.5"><title>求解</title><text class="sf" x="0" y="11.4" font-size="11.4" fill="#222">求解</text></svg><svg class="cj" role="img" aria-label="返回默认设置" style="left:355.10px;top:455.00px" width="68.3" height="15.4" viewBox="0 0 68.3 15.4"><title>返回默认设置</title><text class="sf" x="0" y="10.6" font-size="10.6" letter-spacing="0.45" fill="#222">返回默认设置</text></svg><svg class="cj" role="img" aria-label="几何" style="left:473.80px;top:53.70px" width="21.6" height="14.2" viewBox="0 0 21.6 14.2"><title>几何</title><text x="0" y="9.8" font-size="9.8" fill="#111">几何</text></svg><svg class="cj" role="img" aria-label="网格" style="left:512.20px;top:53.70px" width="21.6" height="14.2" viewBox="0 0 21.6 14.2"><title>网格</title><text x="0" y="9.8" font-size="9.8" fill="#111">网格</text></svg><div class="tab" style="left:542.6px;top:49.4px;width:91px;height:20.6px;background:#f6f6f6"></div><svg class="cj" role="img" aria-label="电路板表面温度" style="left:556.20px;top:54.00px" width="70.2" height="13.9" viewBox="0 0 70.2 13.9"><title>电路板表面温度</title><text x="0" y="9.6" font-size="9.6" letter-spacing="0.15" fill="#111">电路板表面温度</text></svg><div class="abs" style="left:463.6px;top:68.8px;width:79px;height:1.4px;background:#444"></div><div class="abs" style="left:633.6px;top:68.8px;width:639.4px;height:1.4px;background:#444"></div><div class="abs" style="left:463.6px;top:70.2px;width:809.6px;height:612.6px;border-left:1.8px solid #333;border-right:1.2px solid #333;border-bottom:1.2px solid #555;background:linear-gradient(#fff 0,#fff 32.0px,#9a9a9a 32.0px,#d4d4d4 33.2px,#d6d6d6 8%,#dedede 25%,#e8e8e8 45%,#f2f2f2 65%,#fafafa 82%,#fff 96%)"></div><svg class="abs" style="left:466px;top:71px" width="450" height="31" viewBox="466 71 450 31"><g><rect x="470.8" y="79.4" width="22" height="15.6" rx="2.4" fill="#7894c4" stroke="#50679a" stroke-width="0.8"/><rect x="476.5" y="76.8" width="9" height="4" rx="1" fill="#7894c4" stroke="#50679a" stroke-width="0.7"/><rect x="472.2" y="80.8" width="19.2" height="12.8" rx="1.6" fill="#a8bce0"/><circle cx="481.6" cy="87.2" r="5.6" fill="#5f7fb8"/><circle cx="481.6" cy="87.2" r="3.9" fill="#16305e"/><circle cx="489.4" cy="82.4" r="0.9" fill="#fff"/></g><path d="M502.5 74.5v24M560.4 74.5v24" stroke="#d4d4d4" stroke-width="1"/><g stroke="#b4b4b4" stroke-width="0.8" fill="#f4f4f4"><path d="M514 82.5l5.5-5.5h16.5v14.5l-5.5 5.5h-16.5z"/><path d="M514 82.5h16.5v14.5M530.5 82.5l5.5-5.5" fill="none"/></g><ellipse cx="529.2" cy="91.6" rx="7.2" ry="4.3" fill="#e8c878" stroke="#b08840" stroke-width="0.9"/><ellipse cx="529.2" cy="91.6" rx="3.6" ry="2.6" fill="#f0dca0"/><path d="M522.4 97.2l12.8-12.4" stroke="#d04830" stroke-width="1.1"/><path d="M542.6 84.6h6.6l-3.3 3.8z" fill="#6c6c6c"/><rect x="570.6" y="75" width="22.2" height="21.8" fill="#d4dcec" stroke="#6c7c9c" stroke-width="0.9"/><rect x="570.6" y="75" width="22.2" height="2.6" fill="#8c9cbc"/><g stroke="#3c4c74" stroke-width="0.9" fill="#3c4c74"><path d="M581.7 81.5v11M576.2 87h11" fill="none"/><path d="M581.7 80.2l-1.6 2.2h3.2zM581.7 93.8l-1.6-2.2h3.2zM574.9 87l2.2-1.6v3.2zM588.5 87l-2.2-1.6v3.2z" stroke-width="0.4"/></g><g stroke-width="1.4" fill="none"><path d="M615.4 89.6v-12" stroke="#10a040"/><path d="M615.4 89.6l-9 5.6" stroke="#2030e8"/><path d="M615.4 89.6l9.4 5.6" stroke="#e82020"/></g><path d="M615.4 75l-2.2 3.6h4.4z" fill="#10a040"/><path d="M604.6 96.4l4-0.6-2-3z" fill="#2030e8"/><path d="M626.6 96.4l-4-0.6 2-3z" fill="#e82020"/><text x="616.4" y="79" font-size="5.6" font-weight="bold" fill="#222" font-family="Liberation Sans,sans-serif">Y</text><text x="604" y="90.4" font-size="6" font-weight="bold" fill="#222" font-family="Liberation Sans,sans-serif">Z</text><text x="621.6" y="90.4" font-size="6" font-weight="bold" fill="#222" font-family="Liberation Sans,sans-serif">X</text><path d="M633.6 84.6h6.6l-3.3 3.8z" fill="#6c6c6c"/><g fill="none" stroke="#2c4c84" stroke-width="1.3"><path d="M670.2 80.8a9.6 9.6 0 1 0 2.6 6.6"/></g><path d="M673.6 78.2l-0.4 5.8-5.4-2.6z" fill="#1c3c74"/><path d="M653.6 86.6h9.4v9.6a9.6 9.6 0 0 1-9.4-9.6z" fill="#a8d4f4" stroke="#4c84c4" stroke-width="0.6"/><path d="M660 88.4h1.6v1.4" stroke="#2c5c9c" stroke-width="0.6" fill="none"/><g fill="none" stroke="#2c4c84" stroke-width="1.3"><path d="M689.2 80.8a9.6 9.6 0 1 1-2.6 6.6"/></g><path d="M685.8 78.2l0.4 5.8 5.4-2.6z" fill="#1c3c74"/><path d="M705.8 86.6h-9.4v9.6a9.6 9.6 0 0 0 9.4-9.6z" fill="#a8d4f4" stroke="#4c84c4" stroke-width="0.6"/><path d="M699.4 88.4h-1.6v1.4" stroke="#2c5c9c" stroke-width="0.6" fill="none"/><path d="M711.6 72v29.5" stroke="#a4a4a4" stroke-width="1"/><rect x="716.8" y="82" width="16" height="10.6" rx="1" fill="#e6e6e6" stroke="#b8b8b8" stroke-width="1"/><path d="M733.2 85.4l5.8-3v10.4l-5.8-3z" fill="#e6e6e6" stroke="#b8b8b8" stroke-width="1"/><rect x="719.4" y="84.2" width="5.6" height="1.8" fill="#c4c4c4"/><path d="M767.6 79.6v15.2l-13.4-7.6z" fill="#e6e6e6" stroke="#b8b8b8" stroke-width="1"/><path d="M802.4 79.6v15.2l-13.4-7.6z" fill="#e6e6e6" stroke="#b8b8b8" stroke-width="1"/><rect x="786.4" y="79.4" width="2.4" height="15.6" fill="#c8c8c8" stroke="#b0b0b0" stroke-width="0.6"/><rect x="819.4" y="79.4" width="16" height="15.6" fill="#e6e6e6" stroke="#b8b8b8" stroke-width="1"/><path d="M852.6 79.6v15.2l13.4-7.6z" fill="#e6e6e6" stroke="#b8b8b8" stroke-width="1"/><rect x="866.2" y="79.4" width="2.4" height="15.6" fill="#c8c8c8" stroke="#b0b0b0" stroke-width="0.6"/><path d="M888.4 79.6v15.2l13.4-7.6z" fill="#e6e6e6" stroke="#b8b8b8" stroke-width="1"/></svg><svg class="abs" style="left:465.4px;top:102.8px" width="806" height="579" viewBox="465.4 102.8 806 579"><g transform="translate(-54.0 -16.8)"><defs><defs><linearGradient id="bsideL" gradientUnits="userSpaceOnUse" x1="588.2" y1="0" x2="850.6" y2="0"><stop offset="0" stop-color="#1880b8"/><stop offset="0.2" stop-color="#1cc080"/><stop offset="0.5" stop-color="#84c424"/><stop offset="1" stop-color="#9cc81c"/></linearGradient></defs><clipPath id="bbc"><polygon points="588.2,431.3 887.4,255.6 1149.7,409.4 850.6,584.6"/></clipPath><linearGradient id="bgLT" gradientUnits="userSpaceOnUse" x1="737.8" y1="343.4" x2="845.7" y2="406.5"><stop offset="0" stop-color="#2cf47a" stop-opacity="1"/><stop offset="0.2" stop-color="#5cf84e" stop-opacity="0.95"/><stop offset="0.45" stop-color="#a4f622" stop-opacity="0.75"/><stop offset="0.75" stop-color="#d4f60a" stop-opacity="0.4"/><stop offset="1" stop-color="#ecf400" stop-opacity="0"/></linearGradient><linearGradient id="bgLB" gradientUnits="userSpaceOnUse" x1="719.4" y1="508.0" x2="779.8" y2="472.5"><stop offset="0" stop-color="#a8f41e" stop-opacity="0.95"/><stop offset="0.5" stop-color="#cdf60c" stop-opacity="0.6"/><stop offset="1" stop-color="#e6f400" stop-opacity="0"/></linearGradient><linearGradient id="bgBR" gradientUnits="userSpaceOnUse" x1="1000.2" y1="497.0" x2="922.4" y2="451.6"><stop offset="0" stop-color="#b8f416" stop-opacity="0.9"/><stop offset="0.5" stop-color="#dcf404" stop-opacity="0.5"/><stop offset="1" stop-color="#e6f400" stop-opacity="0"/></linearGradient><linearGradient id="bgTR" gradientUnits="userSpaceOnUse" x1="1018.5" y1="332.5" x2="928.0" y2="385.7"><stop offset="0" stop-color="#98f42c" stop-opacity="0.9"/><stop offset="0.5" stop-color="#bcf416" stop-opacity="0.55"/><stop offset="1" stop-color="#e6f400" stop-opacity="0"/></linearGradient><radialGradient id="brL" gradientUnits="userSpaceOnUse" cx="584.2" cy="431.3" r="128.0"><stop offset="0" stop-color="#1c78e8" stop-opacity="1"/><stop offset="0.12" stop-color="#10a0d8" stop-opacity="1"/><stop offset="0.25" stop-color="#02d4b0" stop-opacity="1"/><stop offset="0.45" stop-color="#1cf07c" stop-opacity="0.9"/><stop offset="0.7" stop-color="#60f84c" stop-opacity="0.5"/><stop offset="1" stop-color="#a0f820" stop-opacity="0"/></radialGradient><radialGradient id="brT" gradientUnits="userSpaceOnUse" cx="862.4" cy="275.6" r="120.0"><stop offset="0" stop-color="#00c8d8" stop-opacity="1"/><stop offset="0.3" stop-color="#04dcb8" stop-opacity="0.95"/><stop offset="0.6" stop-color="#30f478" stop-opacity="0.7"/><stop offset="1" stop-color="#80f838" stop-opacity="0"/></radialGradient><radialGradient id="brBx" gradientUnits="userSpaceOnUse" cx="812.0" cy="308.0" r="30.0"><stop offset="0" stop-color="#0c7ce8" stop-opacity="0.95"/><stop offset="0.5" stop-color="#08b8d0" stop-opacity="0.7"/><stop offset="1" stop-color="#10e0a0" stop-opacity="0"/></radialGradient><radialGradient id="brR" gradientUnits="userSpaceOnUse" cx="1149.7" cy="409.4" r="125.0"><stop offset="0" stop-color="#74ee3a" stop-opacity="1"/><stop offset="0.4" stop-color="#9cf228" stop-opacity="0.8"/><stop offset="1" stop-color="#d0f408" stop-opacity="0"/></radialGradient><radialGradient id="brB" gradientUnits="userSpaceOnUse" cx="850.6" cy="584.6" r="120.0"><stop offset="0" stop-color="#86f030" stop-opacity="1"/><stop offset="0.4" stop-color="#a8f420" stop-opacity="0.7"/><stop offset="1" stop-color="#dcf404" stop-opacity="0"/></radialGradient><radialGradient id="bh1" gradientUnits="userSpaceOnUse" cx="0" cy="0" r="1" gradientTransform="translate(985.0 448.0) rotate(-30.42) scale(150.0 49.0)"><stop offset="0" stop-color="#ff8c00" stop-opacity="1"/><stop offset="0.35" stop-color="#ffa800" stop-opacity="1"/><stop offset="0.55" stop-color="#ffd000" stop-opacity="0.95"/><stop offset="0.76" stop-color="#fbee00" stop-opacity="0.7"/><stop offset="1" stop-color="#eef400" stop-opacity="0"/></radialGradient><radialGradient id="bh2" gradientUnits="userSpaceOnUse" cx="0" cy="0" r="1" gradientTransform="translate(806.0 484.0) rotate(-30.42) scale(78.0 40.0)"><stop offset="0" stop-color="#ffa800" stop-opacity="1"/><stop offset="0.4" stop-color="#ffc400" stop-opacity="0.9"/><stop offset="0.7" stop-color="#ffe000" stop-opacity="0.6"/><stop offset="1" stop-color="#f8f000" stop-opacity="0"/></radialGradient><radialGradient id="bh3" gradientUnits="userSpaceOnUse" cx="0" cy="0" r="1" gradientTransform="translate(846.0 522.0) rotate(-30.42) scale(62.0 40.0)"><stop offset="0" stop-color="#ffc800" stop-opacity="0.9"/><stop offset="0.5" stop-color="#ffe400" stop-opacity="0.65"/><stop offset="1" stop-color="#f4f400" stop-opacity="0"/></radialGradient><radialGradient id="bh4" gradientUnits="userSpaceOnUse" cx="0" cy="0" r="1" gradientTransform="translate(872.0 428.0) rotate(-30.42) scale(70.0 46.0)"><stop offset="0" stop-color="#ffc400" stop-opacity="0.9"/><stop offset="0.5" stop-color="#ffe400" stop-opacity="0.6"/><stop offset="1" stop-color="#f4f400" stop-opacity="0"/></radialGradient><radialGradient id="bh0" gradientUnits="userSpaceOnUse" cx="0" cy="0" r="1" gradientTransform="translate(872.0 488.0) rotate(-30.42) scale(215.0 82.0)"><stop offset="0" stop-color="#f8f000" stop-opacity="0.95"/><stop offset="0.55" stop-color="#f2f200" stop-opacity="0.8"/><stop offset="1" stop-color="#e8f400" stop-opacity="0"/></radialGradient><radialGradient id="bh5" gradientUnits="userSpaceOnUse" cx="0" cy="0" r="1" gradientTransform="translate(765.0 405.0) rotate(-30.42) scale(60.0 44.0)"><stop offset="0" stop-color="#fff000" stop-opacity="0.8"/><stop offset="1" stop-color="#f0f400" stop-opacity="0"/></radialGradient><radialGradient id="bh6" gradientUnits="userSpaceOnUse" cx="0" cy="0" r="1" gradientTransform="translate(712.0 442.0) rotate(-30.42) scale(44.0 30.0)"><stop offset="0" stop-color="#ffe800" stop-opacity="0.7"/><stop offset="1" stop-color="#f0f400" stop-opacity="0"/></radialGradient><linearGradient id="bdm" gradientUnits="userSpaceOnUse" x1="900.0" y1="470.0" x2="1080.0" y2="365.0"><stop offset="0" stop-color="#ff920a" stop-opacity="1"/><stop offset="0.25" stop-color="#ff8204" stop-opacity="1"/><stop offset="0.6" stop-color="#ff8c06" stop-opacity="1"/><stop offset="0.85" stop-color="#ffa60e" stop-opacity="1"/><stop offset="1" stop-color="#ffc018" stop-opacity="1"/></linearGradient><linearGradient id="brl" gradientUnits="userSpaceOnUse" x1="900.0" y1="500.0" x2="1085.0" y2="395.0"><stop offset="0" stop-color="#ffa40e" stop-opacity="1"/><stop offset="0.6" stop-color="#ffb418" stop-opacity="1"/><stop offset="1" stop-color="#ffd424" stop-opacity="1"/></linearGradient></defs><polygon points="588.2,431.3 850.6,584.6 850.6,587.4 588.2,434.1" fill="url(#bsideL)" stroke="#0c0c04" stroke-width="0.6" stroke-linejoin="round"/><polygon points="850.6,584.6 1149.7,409.4 1149.7,412.2 850.6,587.4" fill="#a8c818" stroke="#0c0c04" stroke-width="0.5" stroke-linejoin="round"/><g clip-path="url(#bbc)"><rect x="560" y="240" width="620" height="360" fill="#eef400"/><rect x="560" y="240" width="620" height="360" fill="url(#bgLT)"/><rect x="560" y="240" width="620" height="360" fill="url(#bgTR)"/><rect x="560" y="240" width="620" height="360" fill="url(#bgLB)"/><rect x="560" y="240" width="620" height="360" fill="url(#bgBR)"/><rect x="560" y="240" width="620" height="360" fill="url(#brR)"/><rect x="560" y="240" width="620" height="360" fill="url(#brB)"/><rect x="560" y="240" width="620" height="360" fill="url(#brT)"/><rect x="560" y="240" width="620" height="360" fill="url(#brBx)"/><rect x="560" y="240" width="620" height="360" fill="url(#brL)"/><rect x="560" y="240" width="620" height="360" fill="url(#bh0)"/><rect x="560" y="240" width="620" height="360" fill="url(#bh5)"/><rect x="560" y="240" width="620" height="360" fill="url(#bh6)"/><rect x="560" y="240" width="620" height="360" fill="url(#bh4)"/><rect x="560" y="240" width="620" height="360" fill="url(#bh1)"/><rect x="560" y="240" width="620" height="360" fill="url(#bh2)"/><rect x="560" y="240" width="620" height="360" fill="url(#bh3)"/></g><polygon points="588.2,431.3 887.4,255.6 1149.7,409.4 850.6,584.6" fill="none" stroke="#0c0c04" stroke-width="0.8" stroke-linejoin="round"/><polygon points="801.4,257.4 826.4,270.6 826.4,319.1 801.4,305.9" fill="#0426f0" stroke="#0c0c04" stroke-width="0.85" stroke-linejoin="round"/><polygon points="826.4,270.6 865.7,249.0 865.7,297.5 826.4,319.1" fill="#0428f4" stroke="#0c0c04" stroke-width="0.85" stroke-linejoin="round"/><polygon points="841.0,233.5 801.4,257.4 826.4,270.6 865.7,249.0" fill="#0428f6" stroke="#0c0c04" stroke-width="0.85" stroke-linejoin="round"/><polygon points="828.9,306.8 841.0,314.1 841.0,331.4 828.9,324.1" fill="#04e2a8" stroke="#0c0c04" stroke-width="0.85" stroke-linejoin="round"/><polygon points="841.0,314.1 896.0,281.0 896.0,298.3 841.0,331.4" fill="#08eaa0" stroke="#0c0c04" stroke-width="0.85" stroke-linejoin="round"/><polygon points="883.7,273.1 828.9,306.8 841.0,314.1 896.0,281.0" fill="#04e8a8" stroke="#0c0c04" stroke-width="0.85" stroke-linejoin="round"/><polygon points="805.2,327.6 821.3,336.0 821.3,343.4 805.2,335.0" fill="#ece400" stroke="#0c0c04" stroke-width="0.85" stroke-linejoin="round"/><polygon points="821.3,336.0 833.9,328.4 833.9,335.8 821.3,343.4" fill="#f0ea00" stroke="#0c0c04" stroke-width="0.85" stroke-linejoin="round"/><polygon points="817.0,320.8 805.2,327.6 821.3,336.0 833.9,328.4" fill="#f4f000" stroke="#0c0c04" stroke-width="0.85" stroke-linejoin="round"/><polygon points="788.4,336.9 804.7,345.3 804.7,352.9 788.4,344.5" fill="#f6d800" stroke="#0c0c04" stroke-width="0.85" stroke-linejoin="round"/><polygon points="804.7,345.3 817.0,337.7 817.0,345.3 804.7,352.9" fill="#fadc00" stroke="#0c0c04" stroke-width="0.85" stroke-linejoin="round"/><polygon points="801.0,329.3 788.4,336.9 804.7,345.3 817.0,337.7" fill="#ffe400" stroke="#0c0c04" stroke-width="0.85" stroke-linejoin="round"/><polygon points="633.2,384.9 649.3,394.2 649.3,412.5 633.2,403.2" fill="#08e0ae" stroke="#0c0c04" stroke-width="0.85" stroke-linejoin="round"/><polygon points="649.3,394.2 717.6,354.9 717.6,373.2 649.3,412.5" fill="#10e8a4" stroke="#0c0c04" stroke-width="0.85" stroke-linejoin="round"/><polygon points="700.7,345.0 633.2,384.9 649.3,394.2 717.6,354.9" fill="#0ce6ac" stroke="#0c0c04" stroke-width="0.85" stroke-linejoin="round"/><polygon points="596.6,405.7 609.1,412.4 609.1,431.8 596.6,425.1" fill="#0c60e0" stroke="#0c0c04" stroke-width="0.85" stroke-linejoin="round"/><polygon points="609.1,412.4 626.5,402.1 626.5,421.5 609.1,431.8" fill="#0e64e4" stroke="#0c0c04" stroke-width="0.85" stroke-linejoin="round"/><polygon points="614.2,394.7 596.6,405.7 609.1,412.4 626.5,402.1" fill="#1068e8" stroke="#0c0c04" stroke-width="0.85" stroke-linejoin="round"/><polygon points="749.6,357.4 763.9,365.9 763.9,367.5 749.6,359.0" fill="#ef3803" stroke="#0c0c04" stroke-width="0.85" stroke-linejoin="round"/><polygon points="763.9,365.9 778.6,357.9 778.6,359.5 763.9,367.5" fill="#f93a03" stroke="#0c0c04" stroke-width="0.85" stroke-linejoin="round"/><polygon points="763.9,349.0 749.6,357.4 763.9,365.9 778.6,357.9" fill="#ff3c04" stroke="#0c0c04" stroke-width="0.85" stroke-linejoin="round"/><polygon points="868.2,354.3 942.8,397.9 942.8,403.7 868.2,360.1" fill="#fa0000" stroke="#0c0c04" stroke-width="0.8" stroke-linejoin="round"/><polygon points="942.8,397.9 1007.5,359.8 1007.5,365.6 942.8,403.7" fill="#f40400" stroke="#0c0c04" stroke-width="0.8" stroke-linejoin="round"/><polygon points="868.2,354.3 932.9,316.3 1007.5,359.8 942.8,397.9" fill="#ff0800" stroke="#0c0c04" stroke-width="0.8" stroke-linejoin="round"/><polygon points="868.2,349.1 942.8,392.7 942.8,397.9 868.2,354.3" fill="#f0f010" stroke="#0c0c04" stroke-width="0.8" stroke-linejoin="round"/><polygon points="942.8,392.7 1007.5,354.6 1007.5,359.8 942.8,397.9" fill="#e4ec08" stroke="#0c0c04" stroke-width="0.8" stroke-linejoin="round"/><polygon points="868.2,349.1 932.9,311.1 1007.5,354.6 942.8,392.7" fill="#e8f000" stroke="#0c0c04" stroke-width="0.8" stroke-linejoin="round"/><polygon points="921.3,282.1 922.7,283.0 922.7,318.8 921.3,317.9" fill="#b3d311" stroke="#0c0c04" stroke-width="0.5" stroke-linejoin="round"/><polygon points="922.7,283.0 934.4,276.1 934.4,311.9 922.7,318.8" fill="#ccf014" stroke="#0c0c04" stroke-width="0.5" stroke-linejoin="round"/><polygon points="921.3,282.1 932.9,275.3 934.4,276.1 922.7,283.0" fill="#ccf014" stroke="#0c0c04" stroke-width="0.5" stroke-linejoin="round"/><polygon points="928.6,286.4 930.0,287.2 930.0,323.0 928.6,322.2" fill="#b0d312" stroke="#0c0c04" stroke-width="0.5" stroke-linejoin="round"/><polygon points="930.0,287.2 941.7,280.4 941.7,316.2 930.0,323.0" fill="#c8f015" stroke="#0c0c04" stroke-width="0.5" stroke-linejoin="round"/><polygon points="928.6,286.4 940.3,279.6 941.7,280.4 930.0,287.2" fill="#c8f015" stroke="#0c0c04" stroke-width="0.5" stroke-linejoin="round"/><polygon points="935.9,290.7 937.3,291.5 937.3,327.3 935.9,326.5" fill="#acd213" stroke="#0c0c04" stroke-width="0.5" stroke-linejoin="round"/><polygon points="937.3,291.5 949.0,284.7 949.0,320.5 937.3,327.3" fill="#c4ef16" stroke="#0c0c04" stroke-width="0.5" stroke-linejoin="round"/><polygon points="935.9,290.7 947.6,283.8 949.0,284.7 937.3,291.5" fill="#c4ef16" stroke="#0c0c04" stroke-width="0.5" stroke-linejoin="round"/><polygon points="943.2,294.9 944.7,295.8 944.7,331.6 943.2,330.7" fill="#a9d214" stroke="#0c0c04" stroke-width="0.5" stroke-linejoin="round"/><polygon points="944.7,295.8 956.3,288.9 956.3,324.7 944.7,331.6" fill="#c1ef17" stroke="#0c0c04" stroke-width="0.5" stroke-linejoin="round"/><polygon points="943.2,294.9 954.9,288.1 956.3,288.9 944.7,295.8" fill="#c1ef17" stroke="#0c0c04" stroke-width="0.5" stroke-linejoin="round"/><polygon points="950.5,299.2 952.0,300.0 952.0,335.8 950.5,335.0" fill="#a6d115" stroke="#0c0c04" stroke-width="0.5" stroke-linejoin="round"/><polygon points="952.0,300.0 963.6,293.2 963.6,329.0 952.0,335.8" fill="#bdee18" stroke="#0c0c04" stroke-width="0.5" stroke-linejoin="round"/><polygon points="950.5,299.2 962.2,292.4 963.6,293.2 952.0,300.0" fill="#bdee18" stroke="#0c0c04" stroke-width="0.5" stroke-linejoin="round"/><polygon points="957.9,303.5 959.3,304.3 959.3,340.1 957.9,339.3" fill="#a3d116" stroke="#0c0c04" stroke-width="0.5" stroke-linejoin="round"/><polygon points="959.3,304.3 970.9,297.5 970.9,333.3 959.3,340.1" fill="#baee1a" stroke="#0c0c04" stroke-width="0.5" stroke-linejoin="round"/><polygon points="957.9,303.5 969.5,296.6 970.9,297.5 959.3,304.3" fill="#baee1a" stroke="#0c0c04" stroke-width="0.5" stroke-linejoin="round"/><polygon points="965.2,307.8 966.6,308.6 966.6,344.4 965.2,343.6" fill="#a0d117" stroke="#0c0c04" stroke-width="0.5" stroke-linejoin="round"/><polygon points="966.6,308.6 978.2,301.7 978.2,337.5 966.6,344.4" fill="#b6ee1b" stroke="#0c0c04" stroke-width="0.5" stroke-linejoin="round"/><polygon points="965.2,307.8 976.8,300.9 978.2,301.7 966.6,308.6" fill="#b6ee1b" stroke="#0c0c04" stroke-width="0.5" stroke-linejoin="round"/><polygon points="972.5,312.0 973.9,312.9 973.9,348.7 972.5,347.8" fill="#9cd018" stroke="#0c0c04" stroke-width="0.5" stroke-linejoin="round"/><polygon points="973.9,312.9 985.6,306.0 985.6,341.8 973.9,348.7" fill="#b2ed1c" stroke="#0c0c04" stroke-width="0.5" stroke-linejoin="round"/><polygon points="972.5,312.0 984.1,305.2 985.6,306.0 973.9,312.9" fill="#b2ed1c" stroke="#0c0c04" stroke-width="0.5" stroke-linejoin="round"/><polygon points="979.8,316.3 981.2,317.1 981.2,352.9 979.8,352.1" fill="#9ad019" stroke="#0c0c04" stroke-width="0.5" stroke-linejoin="round"/><polygon points="981.2,317.1 992.9,310.3 992.9,346.1 981.2,352.9" fill="#afed1d" stroke="#0c0c04" stroke-width="0.5" stroke-linejoin="round"/><polygon points="979.8,316.3 991.5,309.5 992.9,310.3 981.2,317.1" fill="#afed1d" stroke="#0c0c04" stroke-width="0.5" stroke-linejoin="round"/><polygon points="987.1,320.6 988.5,321.4 988.5,357.2 987.1,356.4" fill="#96d01a" stroke="#0c0c04" stroke-width="0.5" stroke-linejoin="round"/><polygon points="988.5,321.4 1000.2,314.6 1000.2,350.4 988.5,357.2" fill="#abed1e" stroke="#0c0c04" stroke-width="0.5" stroke-linejoin="round"/><polygon points="987.1,320.6 998.8,313.7 1000.2,314.6 988.5,321.4" fill="#abed1e" stroke="#0c0c04" stroke-width="0.5" stroke-linejoin="round"/><polygon points="994.4,324.9 995.8,325.7 995.8,361.5 994.4,360.7" fill="#93cf1c" stroke="#0c0c04" stroke-width="0.5" stroke-linejoin="round"/><polygon points="995.8,325.7 1007.5,318.8 1007.5,354.6 995.8,361.5" fill="#a8ec20" stroke="#0c0c04" stroke-width="0.5" stroke-linejoin="round"/><polygon points="994.4,324.9 1006.1,318.0 1007.5,318.8 995.8,325.7" fill="#a8ec20" stroke="#0c0c04" stroke-width="0.5" stroke-linejoin="round"/><polygon points="913.4,286.8 914.8,287.6 914.8,323.4 913.4,322.6" fill="#adc60e" stroke="#0c0c04" stroke-width="0.5" stroke-linejoin="round"/><polygon points="914.8,287.6 918.7,285.3 918.7,321.1 914.8,323.4" fill="#c5e210" stroke="#0c0c04" stroke-width="0.5" stroke-linejoin="round"/><polygon points="913.4,286.8 917.3,284.5 918.7,285.3 914.8,287.6" fill="#c5e210" stroke="#0c0c04" stroke-width="0.5" stroke-linejoin="round"/><polygon points="920.7,291.0 922.1,291.9 922.1,327.7 920.7,326.8" fill="#a9c60e" stroke="#0c0c04" stroke-width="0.5" stroke-linejoin="round"/><polygon points="922.1,291.9 926.0,289.6 926.0,325.4 922.1,327.7" fill="#c1e111" stroke="#0c0c04" stroke-width="0.5" stroke-linejoin="round"/><polygon points="920.7,291.0 924.6,288.8 926.0,289.6 922.1,291.9" fill="#c1e111" stroke="#0c0c04" stroke-width="0.5" stroke-linejoin="round"/><polygon points="928.0,295.3 929.4,296.1 929.4,331.9 928.0,331.1" fill="#a6c60f" stroke="#0c0c04" stroke-width="0.5" stroke-linejoin="round"/><polygon points="929.4,296.1 933.3,293.9 933.3,329.7 929.4,331.9" fill="#bde112" stroke="#0c0c04" stroke-width="0.5" stroke-linejoin="round"/><polygon points="928.0,295.3 931.9,293.0 933.3,293.9 929.4,296.1" fill="#bde112" stroke="#0c0c04" stroke-width="0.5" stroke-linejoin="round"/><polygon points="935.3,299.6 936.8,300.4 936.8,336.2 935.3,335.4" fill="#a4c510" stroke="#0c0c04" stroke-width="0.5" stroke-linejoin="round"/><polygon points="936.8,300.4 940.6,298.1 940.6,333.9 936.8,336.2" fill="#bbe013" stroke="#0c0c04" stroke-width="0.5" stroke-linejoin="round"/><polygon points="935.3,299.6 939.2,297.3 940.6,298.1 936.8,300.4" fill="#bbe013" stroke="#0c0c04" stroke-width="0.5" stroke-linejoin="round"/><polygon points="942.6,303.9 944.1,304.7 944.1,340.5 942.6,339.7" fill="#a1c511" stroke="#0c0c04" stroke-width="0.5" stroke-linejoin="round"/><polygon points="944.1,304.7 948.0,302.4 948.0,338.2 944.1,340.5" fill="#b7e014" stroke="#0c0c04" stroke-width="0.5" stroke-linejoin="round"/><polygon points="942.6,303.9 946.5,301.6 948.0,302.4 944.1,304.7" fill="#b7e014" stroke="#0c0c04" stroke-width="0.5" stroke-linejoin="round"/><polygon points="950.0,308.1 951.4,309.0 951.4,344.8 950.0,343.9" fill="#9ec513" stroke="#0c0c04" stroke-width="0.5" stroke-linejoin="round"/><polygon points="951.4,309.0 955.3,306.7 955.3,342.5 951.4,344.8" fill="#b4e016" stroke="#0c0c04" stroke-width="0.5" stroke-linejoin="round"/><polygon points="950.0,308.1 953.8,305.8 955.3,306.7 951.4,309.0" fill="#b4e016" stroke="#0c0c04" stroke-width="0.5" stroke-linejoin="round"/><polygon points="957.3,312.4 958.7,313.2 958.7,349.0 957.3,348.2" fill="#9ac414" stroke="#0c0c04" stroke-width="0.5" stroke-linejoin="round"/><polygon points="958.7,313.2 962.6,310.9 962.6,346.7 958.7,349.0" fill="#b0df17" stroke="#0c0c04" stroke-width="0.5" stroke-linejoin="round"/><polygon points="957.3,312.4 961.2,310.1 962.6,310.9 958.7,313.2" fill="#b0df17" stroke="#0c0c04" stroke-width="0.5" stroke-linejoin="round"/><polygon points="964.6,316.7 966.0,317.5 966.0,353.3 964.6,352.5" fill="#97c415" stroke="#0c0c04" stroke-width="0.5" stroke-linejoin="round"/><polygon points="966.0,317.5 969.9,315.2 969.9,351.0 966.0,353.3" fill="#acdf18" stroke="#0c0c04" stroke-width="0.5" stroke-linejoin="round"/><polygon points="964.6,316.7 968.5,314.4 969.9,315.2 966.0,317.5" fill="#acdf18" stroke="#0c0c04" stroke-width="0.5" stroke-linejoin="round"/><polygon points="971.9,320.9 973.3,321.8 973.3,357.6 971.9,356.7" fill="#95c416" stroke="#0c0c04" stroke-width="0.5" stroke-linejoin="round"/><polygon points="973.3,321.8 977.2,319.5 977.2,355.3 973.3,357.6" fill="#aadf19" stroke="#0c0c04" stroke-width="0.5" stroke-linejoin="round"/><polygon points="971.9,320.9 975.8,318.7 977.2,319.5 973.3,321.8" fill="#aadf19" stroke="#0c0c04" stroke-width="0.5" stroke-linejoin="round"/><polygon points="979.2,325.2 980.6,326.0 980.6,361.8 979.2,361.0" fill="#92c316" stroke="#0c0c04" stroke-width="0.5" stroke-linejoin="round"/><polygon points="980.6,326.0 984.5,323.8 984.5,359.6 980.6,361.8" fill="#a6de1a" stroke="#0c0c04" stroke-width="0.5" stroke-linejoin="round"/><polygon points="979.2,325.2 983.1,322.9 984.5,323.8 980.6,326.0" fill="#a6de1a" stroke="#0c0c04" stroke-width="0.5" stroke-linejoin="round"/><polygon points="986.5,329.5 987.9,330.3 987.9,366.1 986.5,365.3" fill="#8fc318" stroke="#0c0c04" stroke-width="0.5" stroke-linejoin="round"/><polygon points="987.9,330.3 991.8,328.0 991.8,363.8 987.9,366.1" fill="#a3de1c" stroke="#0c0c04" stroke-width="0.5" stroke-linejoin="round"/><polygon points="986.5,329.5 990.4,327.2 991.8,328.0 987.9,330.3" fill="#a3de1c" stroke="#0c0c04" stroke-width="0.5" stroke-linejoin="round"/><polygon points="906.1,291.0 907.6,291.9 907.6,327.7 906.1,326.8" fill="#b2c60d" stroke="#0c0c04" stroke-width="0.5" stroke-linejoin="round"/><polygon points="907.6,291.9 911.4,289.6 911.4,325.4 907.6,327.7" fill="#cbe20f" stroke="#0c0c04" stroke-width="0.5" stroke-linejoin="round"/><polygon points="906.1,291.0 910.0,288.7 911.4,289.6 907.6,291.9" fill="#cbe20f" stroke="#0c0c04" stroke-width="0.5" stroke-linejoin="round"/><polygon points="913.5,295.3 914.9,296.1 914.9,331.9 913.5,331.1" fill="#afc60d" stroke="#0c0c04" stroke-width="0.5" stroke-linejoin="round"/><polygon points="914.9,296.1 918.8,293.8 918.8,329.6 914.9,331.9" fill="#c7e20f" stroke="#0c0c04" stroke-width="0.5" stroke-linejoin="round"/><polygon points="913.5,295.3 917.3,293.0 918.8,293.8 914.9,296.1" fill="#c7e20f" stroke="#0c0c04" stroke-width="0.5" stroke-linejoin="round"/><polygon points="920.8,299.6 922.2,300.4 922.2,336.2 920.8,335.4" fill="#abc60e" stroke="#0c0c04" stroke-width="0.5" stroke-linejoin="round"/><polygon points="922.2,300.4 926.1,298.1 926.1,333.9 922.2,336.2" fill="#c3e110" stroke="#0c0c04" stroke-width="0.5" stroke-linejoin="round"/><polygon points="920.8,299.6 924.7,297.3 926.1,298.1 922.2,300.4" fill="#c3e110" stroke="#0c0c04" stroke-width="0.5" stroke-linejoin="round"/><polygon points="928.1,303.8 929.5,304.7 929.5,340.5 928.1,339.6" fill="#a8c60e" stroke="#0c0c04" stroke-width="0.5" stroke-linejoin="round"/><polygon points="929.5,304.7 933.4,302.4 933.4,338.2 929.5,340.5" fill="#c0e111" stroke="#0c0c04" stroke-width="0.5" stroke-linejoin="round"/><polygon points="928.1,303.8 932.0,301.6 933.4,302.4 929.5,304.7" fill="#c0e111" stroke="#0c0c04" stroke-width="0.5" stroke-linejoin="round"/><polygon points="935.4,308.1 936.8,308.9 936.8,344.7 935.4,343.9" fill="#a5c60f" stroke="#0c0c04" stroke-width="0.5" stroke-linejoin="round"/><polygon points="936.8,308.9 940.7,306.7 940.7,342.5 936.8,344.7" fill="#bce112" stroke="#0c0c04" stroke-width="0.5" stroke-linejoin="round"/><polygon points="935.4,308.1 939.3,305.8 940.7,306.7 936.8,308.9" fill="#bce112" stroke="#0c0c04" stroke-width="0.5" stroke-linejoin="round"/><polygon points="942.7,312.4 944.1,313.2 944.1,349.0 942.7,348.2" fill="#a3c511" stroke="#0c0c04" stroke-width="0.5" stroke-linejoin="round"/><polygon points="944.1,313.2 948.0,310.9 948.0,346.7 944.1,349.0" fill="#bae014" stroke="#0c0c04" stroke-width="0.5" stroke-linejoin="round"/><polygon points="942.7,312.4 946.6,310.1 948.0,310.9 944.1,313.2" fill="#bae014" stroke="#0c0c04" stroke-width="0.5" stroke-linejoin="round"/><polygon points="950.0,316.7 951.4,317.5 951.4,353.3 950.0,352.5" fill="#a0c512" stroke="#0c0c04" stroke-width="0.5" stroke-linejoin="round"/><polygon points="951.4,317.5 955.3,315.2 955.3,351.0 951.4,353.3" fill="#b6e015" stroke="#0c0c04" stroke-width="0.5" stroke-linejoin="round"/><polygon points="950.0,316.7 953.9,314.4 955.3,315.2 951.4,317.5" fill="#b6e015" stroke="#0c0c04" stroke-width="0.5" stroke-linejoin="round"/><polygon points="957.3,320.9 958.8,321.8 958.8,357.6 957.3,356.7" fill="#9cc513" stroke="#0c0c04" stroke-width="0.5" stroke-linejoin="round"/><polygon points="958.8,321.8 962.6,319.5 962.6,355.3 958.8,357.6" fill="#b2e016" stroke="#0c0c04" stroke-width="0.5" stroke-linejoin="round"/><polygon points="957.3,320.9 961.2,318.6 962.6,319.5 958.8,321.8" fill="#b2e016" stroke="#0c0c04" stroke-width="0.5" stroke-linejoin="round"/><polygon points="964.6,325.2 966.1,326.0 966.1,361.8 964.6,361.0" fill="#9ac414" stroke="#0c0c04" stroke-width="0.5" stroke-linejoin="round"/><polygon points="966.1,326.0 970.0,323.8 970.0,359.6 966.1,361.8" fill="#afdf17" stroke="#0c0c04" stroke-width="0.5" stroke-linejoin="round"/><polygon points="964.6,325.2 968.5,322.9 970.0,323.8 966.1,326.0" fill="#afdf17" stroke="#0c0c04" stroke-width="0.5" stroke-linejoin="round"/><polygon points="972.0,329.5 973.4,330.3 973.4,366.1 972.0,365.3" fill="#97c415" stroke="#0c0c04" stroke-width="0.5" stroke-linejoin="round"/><polygon points="973.4,330.3 977.3,328.0 977.3,363.8 973.4,366.1" fill="#acdf18" stroke="#0c0c04" stroke-width="0.5" stroke-linejoin="round"/><polygon points="972.0,329.5 975.8,327.2 977.3,328.0 973.4,330.3" fill="#acdf18" stroke="#0c0c04" stroke-width="0.5" stroke-linejoin="round"/><polygon points="979.3,333.7 980.7,334.6 980.7,370.4 979.3,369.5" fill="#94c416" stroke="#0c0c04" stroke-width="0.5" stroke-linejoin="round"/><polygon points="980.7,334.6 984.6,332.3 984.6,368.1 980.7,370.4" fill="#a9df1a" stroke="#0c0c04" stroke-width="0.5" stroke-linejoin="round"/><polygon points="979.3,333.7 983.2,331.5 984.6,332.3 980.7,334.6" fill="#a9df1a" stroke="#0c0c04" stroke-width="0.5" stroke-linejoin="round"/><polygon points="898.9,295.3 900.3,296.1 900.3,331.9 898.9,331.1" fill="#b7c70b" stroke="#0c0c04" stroke-width="0.5" stroke-linejoin="round"/><polygon points="900.3,296.1 904.2,293.8 904.2,329.6 900.3,331.9" fill="#d0e30d" stroke="#0c0c04" stroke-width="0.5" stroke-linejoin="round"/><polygon points="898.9,295.3 902.8,293.0 904.2,293.8 900.3,296.1" fill="#d0e30d" stroke="#0c0c04" stroke-width="0.5" stroke-linejoin="round"/><polygon points="906.2,299.6 907.6,300.4 907.6,336.2 906.2,335.4" fill="#b3c60c" stroke="#0c0c04" stroke-width="0.5" stroke-linejoin="round"/><polygon points="907.6,300.4 911.5,298.1 911.5,333.9 907.6,336.2" fill="#cce20e" stroke="#0c0c04" stroke-width="0.5" stroke-linejoin="round"/><polygon points="906.2,299.6 910.1,297.3 911.5,298.1 907.6,300.4" fill="#cce20e" stroke="#0c0c04" stroke-width="0.5" stroke-linejoin="round"/><polygon points="913.5,303.8 914.9,304.7 914.9,340.5 913.5,339.6" fill="#b0c60d" stroke="#0c0c04" stroke-width="0.5" stroke-linejoin="round"/><polygon points="914.9,304.7 918.8,302.4 918.8,338.2 914.9,340.5" fill="#c9e20f" stroke="#0c0c04" stroke-width="0.5" stroke-linejoin="round"/><polygon points="913.5,303.8 917.4,301.5 918.8,302.4 914.9,304.7" fill="#c9e20f" stroke="#0c0c04" stroke-width="0.5" stroke-linejoin="round"/><polygon points="920.8,308.1 922.3,308.9 922.3,344.7 920.8,343.9" fill="#aec60d" stroke="#0c0c04" stroke-width="0.5" stroke-linejoin="round"/><polygon points="922.3,308.9 926.1,306.6 926.1,342.4 922.3,344.7" fill="#c6e20f" stroke="#0c0c04" stroke-width="0.5" stroke-linejoin="round"/><polygon points="920.8,308.1 924.7,305.8 926.1,306.6 922.3,308.9" fill="#c6e20f" stroke="#0c0c04" stroke-width="0.5" stroke-linejoin="round"/><polygon points="928.1,312.4 929.6,313.2 929.6,349.0 928.1,348.2" fill="#aac60e" stroke="#0c0c04" stroke-width="0.5" stroke-linejoin="round"/><polygon points="929.6,313.2 933.5,310.9 933.5,346.7 929.6,349.0" fill="#c2e110" stroke="#0c0c04" stroke-width="0.5" stroke-linejoin="round"/><polygon points="928.1,312.4 932.0,310.1 933.5,310.9 929.6,313.2" fill="#c2e110" stroke="#0c0c04" stroke-width="0.5" stroke-linejoin="round"/><polygon points="935.5,316.6 936.9,317.5 936.9,353.3 935.5,352.4" fill="#a8c60f" stroke="#0c0c04" stroke-width="0.5" stroke-linejoin="round"/><polygon points="936.9,317.5 940.8,315.2 940.8,351.0 936.9,353.3" fill="#bfe112" stroke="#0c0c04" stroke-width="0.5" stroke-linejoin="round"/><polygon points="935.5,316.6 939.3,314.4 940.8,315.2 936.9,317.5" fill="#bfe112" stroke="#0c0c04" stroke-width="0.5" stroke-linejoin="round"/><polygon points="942.8,320.9 944.2,321.7 944.2,357.5 942.8,356.7" fill="#a5c610" stroke="#0c0c04" stroke-width="0.5" stroke-linejoin="round"/><polygon points="944.2,321.7 948.1,319.5 948.1,355.3 944.2,357.5" fill="#bce113" stroke="#0c0c04" stroke-width="0.5" stroke-linejoin="round"/><polygon points="942.8,320.9 946.7,318.6 948.1,319.5 944.2,321.7" fill="#bce113" stroke="#0c0c04" stroke-width="0.5" stroke-linejoin="round"/><polygon points="950.1,325.2 951.5,326.0 951.5,361.8 950.1,361.0" fill="#a1c511" stroke="#0c0c04" stroke-width="0.5" stroke-linejoin="round"/><polygon points="951.5,326.0 955.4,323.7 955.4,359.5 951.5,361.8" fill="#b8e014" stroke="#0c0c04" stroke-width="0.5" stroke-linejoin="round"/><polygon points="950.1,325.2 954.0,322.9 955.4,323.7 951.5,326.0" fill="#b8e014" stroke="#0c0c04" stroke-width="0.5" stroke-linejoin="round"/><polygon points="957.4,329.5 958.8,330.3 958.8,366.1 957.4,365.3" fill="#9fc512" stroke="#0c0c04" stroke-width="0.5" stroke-linejoin="round"/><polygon points="958.8,330.3 962.7,328.0 962.7,363.8 958.8,366.1" fill="#b5e015" stroke="#0c0c04" stroke-width="0.5" stroke-linejoin="round"/><polygon points="957.4,329.5 961.3,327.2 962.7,328.0 958.8,330.3" fill="#b5e015" stroke="#0c0c04" stroke-width="0.5" stroke-linejoin="round"/><polygon points="964.7,333.7 966.1,334.6 966.1,370.4 964.7,369.5" fill="#9bc413" stroke="#0c0c04" stroke-width="0.5" stroke-linejoin="round"/><polygon points="966.1,334.6 970.0,332.3 970.0,368.1 966.1,370.4" fill="#b1df16" stroke="#0c0c04" stroke-width="0.5" stroke-linejoin="round"/><polygon points="964.7,333.7 968.6,331.5 970.0,332.3 966.1,334.6" fill="#b1df16" stroke="#0c0c04" stroke-width="0.5" stroke-linejoin="round"/><polygon points="972.0,338.0 973.4,338.8 973.4,374.6 972.0,373.8" fill="#99c415" stroke="#0c0c04" stroke-width="0.5" stroke-linejoin="round"/><polygon points="973.4,338.8 977.3,336.6 977.3,372.4 973.4,374.6" fill="#aedf18" stroke="#0c0c04" stroke-width="0.5" stroke-linejoin="round"/><polygon points="972.0,338.0 975.9,335.7 977.3,336.6 973.4,338.8" fill="#aedf18" stroke="#0c0c04" stroke-width="0.5" stroke-linejoin="round"/><polygon points="891.6,299.5 893.1,300.4 893.1,336.2 891.6,335.3" fill="#bcc709" stroke="#0c0c04" stroke-width="0.5" stroke-linejoin="round"/><polygon points="893.1,300.4 896.9,298.1 896.9,333.9 893.1,336.2" fill="#d6e30b" stroke="#0c0c04" stroke-width="0.5" stroke-linejoin="round"/><polygon points="891.6,299.5 895.5,297.3 896.9,298.1 893.1,300.4" fill="#d6e30b" stroke="#0c0c04" stroke-width="0.5" stroke-linejoin="round"/><polygon points="899.0,303.8 900.4,304.6 900.4,340.4 899.0,339.6" fill="#b8c70a" stroke="#0c0c04" stroke-width="0.5" stroke-linejoin="round"/><polygon points="900.4,304.6 904.3,302.4 904.3,338.2 900.4,340.4" fill="#d2e30c" stroke="#0c0c04" stroke-width="0.5" stroke-linejoin="round"/><polygon points="899.0,303.8 902.8,301.5 904.3,302.4 900.4,304.6" fill="#d2e30c" stroke="#0c0c04" stroke-width="0.5" stroke-linejoin="round"/><polygon points="906.3,308.1 907.7,308.9 907.7,344.7 906.3,343.9" fill="#b5c70b" stroke="#0c0c04" stroke-width="0.5" stroke-linejoin="round"/><polygon points="907.7,308.9 911.6,306.6 911.6,342.4 907.7,344.7" fill="#cee30d" stroke="#0c0c04" stroke-width="0.5" stroke-linejoin="round"/><polygon points="906.3,308.1 910.1,305.8 911.6,306.6 907.7,308.9" fill="#cee30d" stroke="#0c0c04" stroke-width="0.5" stroke-linejoin="round"/><polygon points="913.6,312.4 915.0,313.2 915.0,349.0 913.6,348.2" fill="#b2c60c" stroke="#0c0c04" stroke-width="0.5" stroke-linejoin="round"/><polygon points="915.0,313.2 918.9,310.9 918.9,346.7 915.0,349.0" fill="#cbe20e" stroke="#0c0c04" stroke-width="0.5" stroke-linejoin="round"/><polygon points="913.6,312.4 917.5,310.1 918.9,310.9 915.0,313.2" fill="#cbe20e" stroke="#0c0c04" stroke-width="0.5" stroke-linejoin="round"/><polygon points="920.9,316.6 922.3,317.5 922.3,353.3 920.9,352.4" fill="#b0c60d" stroke="#0c0c04" stroke-width="0.5" stroke-linejoin="round"/><polygon points="922.3,317.5 926.2,315.2 926.2,351.0 922.3,353.3" fill="#c8e20f" stroke="#0c0c04" stroke-width="0.5" stroke-linejoin="round"/><polygon points="920.9,316.6 924.8,314.3 926.2,315.2 922.3,317.5" fill="#c8e20f" stroke="#0c0c04" stroke-width="0.5" stroke-linejoin="round"/><polygon points="928.2,320.9 929.6,321.7 929.6,357.5 928.2,356.7" fill="#adc60e" stroke="#0c0c04" stroke-width="0.5" stroke-linejoin="round"/><polygon points="929.6,321.7 933.5,319.5 933.5,355.3 929.6,357.5" fill="#c5e210" stroke="#0c0c04" stroke-width="0.5" stroke-linejoin="round"/><polygon points="928.2,320.9 932.1,318.6 933.5,319.5 929.6,321.7" fill="#c5e210" stroke="#0c0c04" stroke-width="0.5" stroke-linejoin="round"/><polygon points="935.5,325.2 936.9,326.0 936.9,361.8 935.5,361.0" fill="#a9c60e" stroke="#0c0c04" stroke-width="0.5" stroke-linejoin="round"/><polygon points="936.9,326.0 940.8,323.7 940.8,359.5 936.9,361.8" fill="#c1e111" stroke="#0c0c04" stroke-width="0.5" stroke-linejoin="round"/><polygon points="935.5,325.2 939.4,322.9 940.8,323.7 936.9,326.0" fill="#c1e111" stroke="#0c0c04" stroke-width="0.5" stroke-linejoin="round"/><polygon points="942.8,329.4 944.3,330.3 944.3,366.1 942.8,365.2" fill="#a6c60f" stroke="#0c0c04" stroke-width="0.5" stroke-linejoin="round"/><polygon points="944.3,330.3 948.1,328.0 948.1,363.8 944.3,366.1" fill="#bde112" stroke="#0c0c04" stroke-width="0.5" stroke-linejoin="round"/><polygon points="942.8,329.4 946.7,327.2 948.1,328.0 944.3,330.3" fill="#bde112" stroke="#0c0c04" stroke-width="0.5" stroke-linejoin="round"/><polygon points="950.1,333.7 951.6,334.6 951.6,370.4 950.1,369.5" fill="#a4c510" stroke="#0c0c04" stroke-width="0.5" stroke-linejoin="round"/><polygon points="951.6,334.6 955.5,332.3 955.5,368.1 951.6,370.4" fill="#bbe013" stroke="#0c0c04" stroke-width="0.5" stroke-linejoin="round"/><polygon points="950.1,333.7 954.0,331.4 955.5,332.3 951.6,334.6" fill="#bbe013" stroke="#0c0c04" stroke-width="0.5" stroke-linejoin="round"/><polygon points="957.5,338.0 958.9,338.8 958.9,374.6 957.5,373.8" fill="#a1c511" stroke="#0c0c04" stroke-width="0.5" stroke-linejoin="round"/><polygon points="958.9,338.8 962.8,336.5 962.8,372.3 958.9,374.6" fill="#b7e014" stroke="#0c0c04" stroke-width="0.5" stroke-linejoin="round"/><polygon points="957.5,338.0 961.3,335.7 962.8,336.5 958.9,338.8" fill="#b7e014" stroke="#0c0c04" stroke-width="0.5" stroke-linejoin="round"/><polygon points="964.8,342.3 966.2,343.1 966.2,378.9 964.8,378.1" fill="#9ec513" stroke="#0c0c04" stroke-width="0.5" stroke-linejoin="round"/><polygon points="966.2,343.1 970.1,340.8 970.1,376.6 966.2,378.9" fill="#b4e016" stroke="#0c0c04" stroke-width="0.5" stroke-linejoin="round"/><polygon points="964.8,342.3 968.7,340.0 970.1,340.8 966.2,343.1" fill="#b4e016" stroke="#0c0c04" stroke-width="0.5" stroke-linejoin="round"/><polygon points="884.4,303.8 885.8,304.6 885.8,340.4 884.4,339.6" fill="#c0c807" stroke="#0c0c04" stroke-width="0.5" stroke-linejoin="round"/><polygon points="885.8,304.6 889.7,302.3 889.7,338.1 885.8,340.4" fill="#dbe409" stroke="#0c0c04" stroke-width="0.5" stroke-linejoin="round"/><polygon points="884.4,303.8 888.3,301.5 889.7,302.3 885.8,304.6" fill="#dbe409" stroke="#0c0c04" stroke-width="0.5" stroke-linejoin="round"/><polygon points="891.7,308.1 893.1,308.9 893.1,344.7 891.7,343.9" fill="#bec808" stroke="#0c0c04" stroke-width="0.5" stroke-linejoin="round"/><polygon points="893.1,308.9 897.0,306.6 897.0,342.4 893.1,344.7" fill="#d8e40a" stroke="#0c0c04" stroke-width="0.5" stroke-linejoin="round"/><polygon points="891.7,308.1 895.6,305.8 897.0,306.6 893.1,308.9" fill="#d8e40a" stroke="#0c0c04" stroke-width="0.5" stroke-linejoin="round"/><polygon points="899.0,312.3 900.4,313.2 900.4,349.0 899.0,348.1" fill="#bac709" stroke="#0c0c04" stroke-width="0.5" stroke-linejoin="round"/><polygon points="900.4,313.2 904.3,310.9 904.3,346.7 900.4,349.0" fill="#d4e30b" stroke="#0c0c04" stroke-width="0.5" stroke-linejoin="round"/><polygon points="899.0,312.3 902.9,310.1 904.3,310.9 900.4,313.2" fill="#d4e30b" stroke="#0c0c04" stroke-width="0.5" stroke-linejoin="round"/><polygon points="906.3,316.6 907.7,317.4 907.7,353.2 906.3,352.4" fill="#b7c70a" stroke="#0c0c04" stroke-width="0.5" stroke-linejoin="round"/><polygon points="907.7,317.4 911.6,315.2 911.6,351.0 907.7,353.2" fill="#d1e30c" stroke="#0c0c04" stroke-width="0.5" stroke-linejoin="round"/><polygon points="906.3,316.6 910.2,314.3 911.6,315.2 907.7,317.4" fill="#d1e30c" stroke="#0c0c04" stroke-width="0.5" stroke-linejoin="round"/><polygon points="913.6,320.9 915.1,321.7 915.1,357.5 913.6,356.7" fill="#b4c60b" stroke="#0c0c04" stroke-width="0.5" stroke-linejoin="round"/><polygon points="915.1,321.7 918.9,319.4 918.9,355.2 915.1,357.5" fill="#cde20d" stroke="#0c0c04" stroke-width="0.5" stroke-linejoin="round"/><polygon points="913.6,320.9 917.5,318.6 918.9,319.4 915.1,321.7" fill="#cde20d" stroke="#0c0c04" stroke-width="0.5" stroke-linejoin="round"/><polygon points="921.0,325.2 922.4,326.0 922.4,361.8 921.0,361.0" fill="#b2c60d" stroke="#0c0c04" stroke-width="0.5" stroke-linejoin="round"/><polygon points="922.4,326.0 926.3,323.7 926.3,359.5 922.4,361.8" fill="#cbe20f" stroke="#0c0c04" stroke-width="0.5" stroke-linejoin="round"/><polygon points="921.0,325.2 924.8,322.9 926.3,323.7 922.4,326.0" fill="#cbe20f" stroke="#0c0c04" stroke-width="0.5" stroke-linejoin="round"/><polygon points="928.3,329.4 929.7,330.3 929.7,366.1 928.3,365.2" fill="#afc60d" stroke="#0c0c04" stroke-width="0.5" stroke-linejoin="round"/><polygon points="929.7,330.3 933.6,328.0 933.6,363.8 929.7,366.1" fill="#c7e20f" stroke="#0c0c04" stroke-width="0.5" stroke-linejoin="round"/><polygon points="928.3,329.4 932.2,327.2 933.6,328.0 929.7,330.3" fill="#c7e20f" stroke="#0c0c04" stroke-width="0.5" stroke-linejoin="round"/><polygon points="935.6,333.7 937.0,334.5 937.0,370.3 935.6,369.5" fill="#abc60e" stroke="#0c0c04" stroke-width="0.5" stroke-linejoin="round"/><polygon points="937.0,334.5 940.9,332.3 940.9,368.1 937.0,370.3" fill="#c3e110" stroke="#0c0c04" stroke-width="0.5" stroke-linejoin="round"/><polygon points="935.6,333.7 939.5,331.4 940.9,332.3 937.0,334.5" fill="#c3e110" stroke="#0c0c04" stroke-width="0.5" stroke-linejoin="round"/><polygon points="942.9,338.0 944.3,338.8 944.3,374.6 942.9,373.8" fill="#a8c60e" stroke="#0c0c04" stroke-width="0.5" stroke-linejoin="round"/><polygon points="944.3,338.8 948.2,336.5 948.2,372.3 944.3,374.6" fill="#c0e111" stroke="#0c0c04" stroke-width="0.5" stroke-linejoin="round"/><polygon points="942.9,338.0 946.8,335.7 948.2,336.5 944.3,338.8" fill="#c0e111" stroke="#0c0c04" stroke-width="0.5" stroke-linejoin="round"/><polygon points="950.2,342.2 951.6,343.1 951.6,378.9 950.2,378.0" fill="#a5c60f" stroke="#0c0c04" stroke-width="0.5" stroke-linejoin="round"/><polygon points="951.6,343.1 955.5,340.8 955.5,376.6 951.6,378.9" fill="#bce112" stroke="#0c0c04" stroke-width="0.5" stroke-linejoin="round"/><polygon points="950.2,342.2 954.1,340.0 955.5,340.8 951.6,343.1" fill="#bce112" stroke="#0c0c04" stroke-width="0.5" stroke-linejoin="round"/><polygon points="957.5,346.5 958.9,347.4 958.9,383.2 957.5,382.3" fill="#a3c511" stroke="#0c0c04" stroke-width="0.5" stroke-linejoin="round"/><polygon points="958.9,347.4 962.8,345.1 962.8,380.9 958.9,383.2" fill="#bae014" stroke="#0c0c04" stroke-width="0.5" stroke-linejoin="round"/><polygon points="957.5,346.5 961.4,344.2 962.8,345.1 958.9,347.4" fill="#bae014" stroke="#0c0c04" stroke-width="0.5" stroke-linejoin="round"/><polygon points="868.2,313.3 869.6,314.1 869.6,349.9 868.2,349.1" fill="#d3d607" stroke="#0c0c04" stroke-width="0.5" stroke-linejoin="round"/><polygon points="869.6,314.1 882.6,306.5 882.6,342.3 869.6,349.9" fill="#f0f408" stroke="#0c0c04" stroke-width="0.5" stroke-linejoin="round"/><polygon points="868.2,313.3 881.1,305.7 882.6,306.5 869.6,314.1" fill="#f0f408" stroke="#0c0c04" stroke-width="0.5" stroke-linejoin="round"/><polygon points="875.5,317.6 876.9,318.4 876.9,354.2 875.5,353.4" fill="#cfd507" stroke="#0c0c04" stroke-width="0.5" stroke-linejoin="round"/><polygon points="876.9,318.4 889.9,310.8 889.9,346.6 876.9,354.2" fill="#ecf309" stroke="#0c0c04" stroke-width="0.5" stroke-linejoin="round"/><polygon points="875.5,317.6 888.5,310.0 889.9,310.8 876.9,318.4" fill="#ecf309" stroke="#0c0c04" stroke-width="0.5" stroke-linejoin="round"/><polygon points="882.8,321.8 884.3,322.7 884.3,358.5 882.8,357.6" fill="#ccd508" stroke="#0c0c04" stroke-width="0.5" stroke-linejoin="round"/><polygon points="884.3,322.7 897.2,315.1 897.2,350.9 884.3,358.5" fill="#e8f30a" stroke="#0c0c04" stroke-width="0.5" stroke-linejoin="round"/><polygon points="882.8,321.8 895.8,314.2 897.2,315.1 884.3,322.7" fill="#e8f30a" stroke="#0c0c04" stroke-width="0.5" stroke-linejoin="round"/><polygon points="890.1,326.1 891.6,326.9 891.6,362.7 890.1,361.9" fill="#c9d409" stroke="#0c0c04" stroke-width="0.5" stroke-linejoin="round"/><polygon points="891.6,326.9 904.5,319.3 904.5,355.1 891.6,362.7" fill="#e5f20b" stroke="#0c0c04" stroke-width="0.5" stroke-linejoin="round"/><polygon points="890.1,326.1 903.1,318.5 904.5,319.3 891.6,326.9" fill="#e5f20b" stroke="#0c0c04" stroke-width="0.5" stroke-linejoin="round"/><polygon points="897.5,330.4 898.9,331.2 898.9,367.0 897.5,366.2" fill="#c6d40a" stroke="#0c0c04" stroke-width="0.5" stroke-linejoin="round"/><polygon points="898.9,331.2 911.8,323.6 911.8,359.4 898.9,367.0" fill="#e1f20c" stroke="#0c0c04" stroke-width="0.5" stroke-linejoin="round"/><polygon points="897.5,330.4 910.4,322.8 911.8,323.6 898.9,331.2" fill="#e1f20c" stroke="#0c0c04" stroke-width="0.5" stroke-linejoin="round"/><polygon points="904.8,334.7 906.2,335.5 906.2,371.3 904.8,370.5" fill="#c3d40c" stroke="#0c0c04" stroke-width="0.5" stroke-linejoin="round"/><polygon points="906.2,335.5 919.1,327.9 919.1,363.7 906.2,371.3" fill="#def20e" stroke="#0c0c04" stroke-width="0.5" stroke-linejoin="round"/><polygon points="904.8,334.7 917.7,327.1 919.1,327.9 906.2,335.5" fill="#def20e" stroke="#0c0c04" stroke-width="0.5" stroke-linejoin="round"/><polygon points="912.1,338.9 913.5,339.8 913.5,375.6 912.1,374.7" fill="#bfd40d" stroke="#0c0c04" stroke-width="0.5" stroke-linejoin="round"/><polygon points="913.5,339.8 926.5,332.2 926.5,368.0 913.5,375.6" fill="#daf10f" stroke="#0c0c04" stroke-width="0.5" stroke-linejoin="round"/><polygon points="912.1,338.9 925.0,331.3 926.5,332.2 913.5,339.8" fill="#daf10f" stroke="#0c0c04" stroke-width="0.5" stroke-linejoin="round"/><polygon points="919.4,343.2 920.8,344.0 920.8,379.8 919.4,379.0" fill="#bcd40e" stroke="#0c0c04" stroke-width="0.5" stroke-linejoin="round"/><polygon points="920.8,344.0 933.8,336.4 933.8,372.2 920.8,379.8" fill="#d6f110" stroke="#0c0c04" stroke-width="0.5" stroke-linejoin="round"/><polygon points="919.4,343.2 932.3,335.6 933.8,336.4 920.8,344.0" fill="#d6f110" stroke="#0c0c04" stroke-width="0.5" stroke-linejoin="round"/><polygon points="926.7,347.5 928.1,348.3 928.1,384.1 926.7,383.3" fill="#b9d40e" stroke="#0c0c04" stroke-width="0.5" stroke-linejoin="round"/><polygon points="928.1,348.3 941.1,340.7 941.1,376.5 928.1,384.1" fill="#d3f111" stroke="#0c0c04" stroke-width="0.5" stroke-linejoin="round"/><polygon points="926.7,347.5 939.7,339.9 941.1,340.7 928.1,348.3" fill="#d3f111" stroke="#0c0c04" stroke-width="0.5" stroke-linejoin="round"/><polygon points="934.0,351.8 935.4,352.6 935.4,388.4 934.0,387.6" fill="#b6d30f" stroke="#0c0c04" stroke-width="0.5" stroke-linejoin="round"/><polygon points="935.4,352.6 948.4,345.0 948.4,380.8 935.4,388.4" fill="#cff012" stroke="#0c0c04" stroke-width="0.5" stroke-linejoin="round"/><polygon points="934.0,351.8 947.0,344.2 948.4,345.0 935.4,352.6" fill="#cff012" stroke="#0c0c04" stroke-width="0.5" stroke-linejoin="round"/><polygon points="941.3,356.0 942.8,356.9 942.8,392.7 941.3,391.8" fill="#b3d311" stroke="#0c0c04" stroke-width="0.5" stroke-linejoin="round"/><polygon points="942.8,356.9 955.7,349.3 955.7,385.1 942.8,392.7" fill="#ccf014" stroke="#0c0c04" stroke-width="0.5" stroke-linejoin="round"/><polygon points="941.3,356.0 954.3,348.4 955.7,349.3 942.8,356.9" fill="#ccf014" stroke="#0c0c04" stroke-width="0.5" stroke-linejoin="round"/><polygon points="736.6,398.4 769.8,417.0 769.8,423.6 736.6,405.0" fill="#f4bc04" stroke="#0c0c04" stroke-width="0.85" stroke-linejoin="round"/><polygon points="769.8,417.0 802.4,397.9 802.4,404.5 769.8,423.6" fill="#f8c006" stroke="#0c0c04" stroke-width="0.85" stroke-linejoin="round"/><polygon points="769.0,379.0 736.6,398.4 769.8,417.0 802.4,397.9" fill="#ffc808" stroke="#0c0c04" stroke-width="0.85" stroke-linejoin="round"/><path d="M765.6 399.6 l1.6 1" stroke="#333" stroke-width="0.6"/><polygon points="825.2,423.5 870.7,450.3 870.7,451.9 825.2,425.1" fill="#ef8105" stroke="#0c0c04" stroke-width="0.85" stroke-linejoin="round"/><polygon points="870.7,450.3 916.0,423.6 916.0,425.2 870.7,451.9" fill="#f98705" stroke="#0c0c04" stroke-width="0.85" stroke-linejoin="round"/><polygon points="870.3,396.6 825.2,423.5 870.7,450.3 916.0,423.6" fill="#ff8a06" stroke="#0c0c04" stroke-width="0.85" stroke-linejoin="round"/><polygon points="684.3,439.7 711.3,455.8 711.3,457.8 684.3,441.7" fill="#ef7d07" stroke="#0c0c04" stroke-width="0.85" stroke-linejoin="round"/><polygon points="711.3,455.8 736.1,440.1 736.1,442.1 711.3,457.8" fill="#f98307" stroke="#0c0c04" stroke-width="0.85" stroke-linejoin="round"/><polygon points="711.3,423.7 684.3,439.7 711.3,455.8 736.1,440.1" fill="#ff8608" stroke="#0c0c04" stroke-width="0.85" stroke-linejoin="round"/><path d="M706.9 438.4 l1.8 1.2" stroke="#333" stroke-width="0.6"/><polygon points="753.7,445.1 757.8,442.9 776.7,454.5 757.8,467.1 753.7,465.9" fill="#ff9408" stroke="#0c0c04" stroke-width="0.6" stroke-linejoin="round"/><path d="M755.6 464.3 L771.0 453.9 M757.3 465.4 L772.6 455.5" stroke="#3a2808" stroke-width="0.7" fill="none" stroke-dasharray="1 0.6"/><polygon points="737.0,438.5 752.6,445.4 752.6,465.9 737.0,457.1" fill="#ffc600" stroke="#0c0c04" stroke-width="0.7" stroke-linejoin="round"/><ellipse cx="745.8" cy="455.6" rx="3.7" ry="5.2" fill="#ff9200" stroke="#222" stroke-width="0.6"/><path d="M739.7 440.7 L740.8 457.1" stroke="#222" stroke-width="0.7"/><path d="M730.7 425.6 L738.1 431.9 L751.5 442.9" stroke="#24481a" stroke-width="3.7" stroke-linecap="round" fill="none"/><path d="M745.8 418.8 L741.7 433.6" stroke="#182408" stroke-width="3.3" stroke-linecap="round" fill="none"/><path d="M751.8 422.3 L748.2 440.4" stroke="#182408" stroke-width="3.3" stroke-linecap="round" fill="none"/><path d="M757.4 425.6 L753.3 442.9" stroke="#182408" stroke-width="3.3" stroke-linecap="round" fill="none"/><path d="M748.2 440.4 L749.9 461.5 M752.6 442.9 L752.6 465.9 M739.2 439.6 Q738.6 451.7 741.7 457.7 M743.0 442.9 Q747.4 448.4 749.6 453.9" stroke="#1a1a0a" stroke-width="0.9" fill="none"/><path d="M745.8 418.8 L741.7 433.6 M751.8 422.3 L748.2 440.4 M757.4 425.6 L753.3 442.9" stroke="#3c6c2c" stroke-width="2.2" stroke-dasharray="0.7 1.1" fill="none"/><polygon points="763.9,437.2 784.5,449.0 784.5,452.2 763.9,440.4" fill="#ef900b" stroke="#0c0c04" stroke-width="0.85" stroke-linejoin="round"/><polygon points="784.5,449.0 796.8,441.8 796.8,445.0 784.5,452.2" fill="#f9960b" stroke="#0c0c04" stroke-width="0.85" stroke-linejoin="round"/><polygon points="776.1,429.6 763.9,437.2 784.5,449.0 796.8,441.8" fill="#ff9a0c" stroke="#0c0c04" stroke-width="0.85" stroke-linejoin="round"/><polygon points="890.0,489.0 1062.0,388.4 1062.0,397.4 890.0,498.0" fill="url(#brl)" stroke="#0c0c04" stroke-width="0.7" stroke-linejoin="round"/><polygon points="886.0,486.7 1058.0,386.1 1062.0,388.4 890.0,489.0" fill="#ffc02c" stroke="#0c0c04" stroke-width="0.6" stroke-linejoin="round"/><polygon points="885.0,432.6 888.4,434.6 888.4,486.6 885.0,484.6" fill="#ffa818" stroke="#0c0c04" stroke-width="0.6" stroke-linejoin="round"/><polygon points="885.0,432.6 1055.0,333.2 1058.4,335.2 888.4,434.6" fill="#ffb020" stroke="#0c0c04" stroke-width="0.6" stroke-linejoin="round"/><polygon points="888.4,434.6 1058.4,335.2 1058.4,387.2 888.4,486.6" fill="url(#bdm)" stroke="#0c0c04" stroke-width="0.7" stroke-linejoin="round"/><polygon points="1044.0,341.5 1058.0,333.5 1060.5,335.0 1060.5,352.0 1046.5,360.0" fill="#ffb21c" stroke="#0c0c04" stroke-width="0.6" stroke-linejoin="round"/><polygon points="874.5,462.6 878.3,460.7 883.2,463.0 884.7,461.5 888.5,463.0 892.0,461.5 892.0,485.2 895.5,487.7 895.5,492.2 886.3,498.3 876.8,493.0 876.8,484.2 879.1,483.5 879.1,477.4 874.5,475.1" fill="#ffae12" stroke="#0c0c04" stroke-width="0.7" stroke-linejoin="round"/><polygon points="874.5,462.6 879.1,464.9 879.1,477.4 874.5,475.1" fill="#f8a40e" stroke="#0c0c04" stroke-width="0.6" stroke-linejoin="round"/><polygon points="874.5,462.6 878.3,460.7 883.2,463.0 879.1,464.9" fill="#ffbc20" stroke="#0c0c04" stroke-width="0.6" stroke-linejoin="round"/><polygon points="876.8,484.2 879.1,483.5 883.2,487.2 886.3,488.8 886.3,498.3 876.8,493.0" fill="#f8a40e" stroke="#0c0c04" stroke-width="0.6" stroke-linejoin="round"/><path d="M883.2 463.0V487.2 M886.3 488.8L892.0 485.2L895.5 487.7" stroke="#222" stroke-width="0.6" fill="none"/><polygon points="903.2,443.6 906.6,445.6 906.6,495.6 903.2,493.6" fill="#ffa818" stroke="#0c0c04" stroke-width="0.6" stroke-linejoin="round"/><polygon points="903.2,443.6 1073.2,344.2 1076.6,346.2 906.6,445.6" fill="#ffb020" stroke="#0c0c04" stroke-width="0.6" stroke-linejoin="round"/><polygon points="906.6,445.6 1076.6,346.2 1076.6,396.2 906.6,495.6" fill="url(#bdm)" stroke="#0c0c04" stroke-width="0.7" stroke-linejoin="round"/><polygon points="909.5,496.0 1085.5,393.0 1085.5,406.5 909.5,509.5" fill="url(#brl)" stroke="#0c0c04" stroke-width="0.7" stroke-linejoin="round"/><polygon points="905.5,493.7 1081.5,390.7 1085.5,393.0 909.5,496.0" fill="#ffc02c" stroke="#0c0c04" stroke-width="0.6" stroke-linejoin="round"/><polygon points="1075.0,379.0 1083.4,374.0 1083.4,391.0 1075.0,396.0" fill="#ffb820" stroke="#0c0c04" stroke-width="0.6" stroke-linejoin="round"/><polygon points="893.1,472.5 896.9,470.6 901.8,472.9 903.3,471.4 907.1,472.9 910.6,471.4 910.6,495.1 914.1,497.6 914.1,502.1 904.9,508.2 895.4,502.9 895.4,494.1 897.7,493.4 897.7,487.3 893.1,485.0" fill="#ffae12" stroke="#0c0c04" stroke-width="0.7" stroke-linejoin="round"/><polygon points="893.1,472.5 897.7,474.8 897.7,487.3 893.1,485.0" fill="#f8a40e" stroke="#0c0c04" stroke-width="0.6" stroke-linejoin="round"/><polygon points="893.1,472.5 896.9,470.6 901.8,472.9 897.7,474.8" fill="#ffbc20" stroke="#0c0c04" stroke-width="0.6" stroke-linejoin="round"/><polygon points="895.4,494.1 897.7,493.4 901.8,497.1 904.9,498.7 904.9,508.2 895.4,502.9" fill="#f8a40e" stroke="#0c0c04" stroke-width="0.6" stroke-linejoin="round"/><path d="M901.8 472.9V497.1 M904.9 498.7L910.6 495.1L914.1 497.6" stroke="#222" stroke-width="0.6" fill="none"/><polygon points="822.3,468.9 834.4,476.5 834.4,479.5 822.3,471.9" fill="#ef5005" stroke="#0c0c04" stroke-width="0.85" stroke-linejoin="round"/><polygon points="834.4,476.5 850.4,466.7 850.4,469.7 834.4,479.5" fill="#f95405" stroke="#0c0c04" stroke-width="0.85" stroke-linejoin="round"/><polygon points="838.6,459.1 822.3,468.9 834.4,476.5 850.4,466.7" fill="#ff5606" stroke="#0c0c04" stroke-width="0.85" stroke-linejoin="round"/><polygon points="794.8,480.4 811.6,489.5 811.6,491.9 794.8,482.8" fill="#ef3803" stroke="#0c0c04" stroke-width="0.85" stroke-linejoin="round"/><polygon points="811.6,489.5 822.6,483.2 822.6,485.6 811.6,491.9" fill="#f93a03" stroke="#0c0c04" stroke-width="0.85" stroke-linejoin="round"/><polygon points="805.7,474.3 794.8,480.4 811.6,489.5 822.6,483.2" fill="#ff3c04" stroke="#0c0c04" stroke-width="0.85" stroke-linejoin="round"/><polygon points="752.3,485.8 764.1,492.8 764.1,495.8 752.3,488.8" fill="#ef6307" stroke="#0c0c04" stroke-width="0.85" stroke-linejoin="round"/><polygon points="764.1,492.8 784.8,480.2 784.8,483.2 764.1,495.8" fill="#f96707" stroke="#0c0c04" stroke-width="0.85" stroke-linejoin="round"/><polygon points="772.8,473.1 752.3,485.8 764.1,492.8 784.8,480.2" fill="#ff6a08" stroke="#0c0c04" stroke-width="0.85" stroke-linejoin="round"/><polygon points="773.0,498.4 784.3,505.2 784.3,508.2 773.0,501.4" fill="#ef5e05" stroke="#0c0c04" stroke-width="0.85" stroke-linejoin="round"/><polygon points="784.3,505.2 805.4,492.5 805.4,495.5 784.3,508.2" fill="#f96205" stroke="#0c0c04" stroke-width="0.85" stroke-linejoin="round"/><polygon points="794.4,485.8 773.0,498.4 784.3,505.2 805.4,492.5" fill="#ff6406" stroke="#0c0c04" stroke-width="0.85" stroke-linejoin="round"/><polygon points="810.5,520.3 845.4,540.6 845.4,543.9 810.5,523.6" fill="#f01c00" stroke="#0c0c04" stroke-width="0.85" stroke-linejoin="round"/><polygon points="845.4,540.6 880.4,520.3 880.4,523.6 845.4,543.9" fill="#f61e00" stroke="#0c0c04" stroke-width="0.85" stroke-linejoin="round"/><polygon points="845.4,498.9 810.5,520.3 845.4,540.6 880.4,520.3" fill="#ff2200" stroke="#0c0c04" stroke-width="0.85" stroke-linejoin="round"/><path d="M865.7 248 L881.5 232.5" stroke="#222" stroke-width="0.8" fill="none"/><rect x="881.8" y="232.4" width="190.0" height="37.0" fill="#d6cc88" stroke="#111" stroke-width="1.6"/><text x="886.0" y="246.9" class="lt" textLength="182.5" lengthAdjust="spacingAndGlyphs">Position(mm):19.63, 44.55, -203.2</text><text x="886.0" y="265.0" class="lt" textLength="56.5" lengthAdjust="spacingAndGlyphs">T: 35.68 °C</text><path d="M928 357 L941 345" stroke="#333" stroke-width="0.7" fill="none"/><rect x="941.5" y="342.4" width="190.0" height="36.8" fill="#d6cc88" stroke="#111" stroke-width="1.6"/><text x="945.7" y="356.9" class="lt" textLength="182.5" lengthAdjust="spacingAndGlyphs">Position(mm):85.44, 13.6, -184.57</text><text x="945.7" y="375.0" class="lt" textLength="56.5" lengthAdjust="spacingAndGlyphs">T: 65.43 °C</text></g><g stroke-linecap="butt"><path d="M538.6 594.4V561" stroke="#0a9a34" stroke-width="5.4"/><path d="M538.6 545.2l-8.4 15.2q8.4 3 16.8 0z" fill="#0a9a34"/><path d="M539.6 592.0L509.6 611.2" stroke="#1c18dc" stroke-width="5.4"/><path d="M497.8 617.2l8.6-13.6 7.6 13.4q-8 2-16.2 0.200z" fill="#1c18dc"/><path d="M537.6 592.0L568 611.2" stroke="#de1c1c" stroke-width="5.4"/><path d="M579.4 617.2l-8.6-13.6-7.6 13.4q8 2 16.2 0.200z" fill="#de1c1c"/><text x="537.6" y="542" font-family="Liberation Sans,sans-serif" font-size="8.6" fill="#222">Y</text><text x="490" y="629" font-family="Liberation Sans,sans-serif" font-size="8.6" fill="#222">Z</text><text x="586.6" y="629" font-family="Liberation Sans,sans-serif" font-size="8.6" fill="#222">X</text></g><defs><linearGradient id="bcb" x1="0" y1="0" x2="0" y2="1"><stop offset="0" stop-color="#ff0000"/><stop offset="0.1" stop-color="#ff2800"/><stop offset="0.2" stop-color="#ff4800"/><stop offset="0.3" stop-color="#ff8000"/><stop offset="0.35" stop-color="#ff9c00"/><stop offset="0.4" stop-color="#ffb800"/><stop offset="0.45" stop-color="#ffd400"/><stop offset="0.495" stop-color="#fff000"/><stop offset="0.555" stop-color="#e0ff00"/><stop offset="0.605" stop-color="#c8ff08"/><stop offset="0.67" stop-color="#a0ff20"/><stop offset="0.735" stop-color="#78ff38"/><stop offset="0.805" stop-color="#48f860"/><stop offset="0.855" stop-color="#20f080"/><stop offset="0.905" stop-color="#00e0a8"/><stop offset="0.935" stop-color="#08a8c8"/><stop offset="0.965" stop-color="#0870e0"/><stop offset="1" stop-color="#0030ff"/></linearGradient><linearGradient id="bga" x1="0" y1="0" x2="1" y2="0"><stop offset="0" stop-color="#8a8a8a"/><stop offset="0.5" stop-color="#e4e4e4"/><stop offset="1" stop-color="#707070"/></linearGradient></defs><rect x="1157.6" y="161.2" width="16.4" height="371.8" fill="url(#bcb)"/><rect x="1197.8" y="556.6" width="5.2" height="32" rx="1.6" fill="url(#bga)" stroke="#6a6a6a" stroke-width="0.5"/><path d="M1193.4 586.6h13.6l-6.6 10.4z" fill="#5c5c5c"/><text x="1199.6" y="599.4" font-family="Liberation Sans,sans-serif" font-size="6.6" font-weight="bold" fill="#222">G</text></svg><div class="abs" style="left:1128.4px;top:133.6px;font-size:12.4px;color:#3a3a3a;white-space:nowrap;letter-spacing:-0.45px;line-height:16px">Scalar T ( °C )</div><div class="cbl" style="left:1178.4px;top:157.8px">65.43</div><div class="cbl" style="left:1178.4px;top:232.3px">59.48</div><div class="cbl" style="left:1178.4px;top:306.4px">53.53</div><div class="cbl" style="left:1178.4px;top:381.0px">47.58</div><div class="cbl" style="left:1178.4px;top:455.0px">41.63</div><div class="cbl" style="left:1178.4px;top:529.0px">35.68</div><svg class="abs" style="left:195.4px;top:411.2px" width="360" height="360" viewBox="195.4 411.2 360 360"><defs><filter id="bbl" x="-30%" y="-30%" width="160%" height="160%"><feGaussianBlur stdDeviation="11"/></filter><clipPath id="bmc"><circle cx="365.4" cy="581.2" r="109.5"/></clipPath></defs><circle cx="373.4" cy="596.2" r="112.2" fill="#1c2c48" opacity="0.30" filter="url(#bbl)"/><defs><clipPath id="bmu"><path d="M277.23 511.78L266.03 480.12L298.51 491.10A112.20 112.20 0 1 1 277.23 511.78Z"/></clipPath></defs><path d="M277.23 511.78L266.03 480.12L298.51 491.10A112.20 112.20 0 1 1 277.23 511.78Z" fill="#fff"/><g clip-path="url(#bmu)"><path d="M276.2 480V496.4H458.5" stroke="#d2d2d2" stroke-width="1.2" fill="none"/><path d="M477.6 527.5H270.6V635.1H477.6" fill="#fff" stroke="#3874c8" stroke-width="1.5"/></g><path d="M277.23 511.78L266.03 480.12L298.51 491.10A112.20 112.20 0 1 1 277.23 511.78Z" fill="none" stroke="#cae5f4" stroke-width="6.0" stroke-linejoin="miter" stroke-miterlimit="8"/></svg><svg class="cj" role="img" aria-label="求解" style="left:330.70px;top:556.40px" width="82.4" height="58.3" viewBox="0 0 82.4 58.3"><title>求解</title><text x="0" y="40.2" font-size="40.2" fill="#333">求解</text></svg></div><div role="table" aria-label="代理模型预测与仿真结果对比"><div role="row"><div class="abs" role="columnheader" style="left:17.0px;top:834.7px;width:449.9px;height:123.1px;background:#4472c4"></div><div class="abs" role="columnheader" style="left:470.1px;top:834.7px;width:573.1px;height:123.1px;background:#4472c4"><svg class="cj" role="img" aria-label="代理模型预测（°C）" style="left:49.64px;top:32.70px" width="474.3" height="75.8" viewBox="0 0 474.3 75.8"><title>代理模型预测（°C）</title><text x="0" y="52.3" font-size="52.3" font-weight="500" fill="#fff" textLength="472.3" lengthAdjust="spacing">代理模型预测（°C）</text></svg></div><div class="abs" role="columnheader" style="left:1046.3px;top:834.7px;width:560.6px;height:123.1px;background:#4472c4"><svg class="cj" role="img" aria-label="仿真结果（°C）" style="left:95.74px;top:32.70px" width="369.7" height="75.8" viewBox="0 0 369.7 75.8"><title>仿真结果（°C）</title><text x="0" y="52.3" font-size="52.3" font-weight="500" fill="#fff" textLength="367.7" lengthAdjust="spacing">仿真结果（°C）</text></svg></div><div class="abs" role="columnheader" style="left:1610.0px;top:834.7px;width:535.0px;height:123.1px;background:#4472c4"><svg class="cj" role="img" aria-label="绝对误差（°C）" style="left:82.54px;top:32.70px" width="369.7" height="75.8" viewBox="0 0 369.7 75.8"><title>绝对误差（°C）</title><text x="0" y="52.3" font-size="52.3" font-weight="500" fill="#fff" textLength="367.7" lengthAdjust="spacing">绝对误差（°C）</text></svg></div><div class="abs" role="columnheader" style="left:2148.1px;top:834.7px;width:526.1px;height:123.1px;background:#4472c4"><svg class="cj" role="img" aria-label="精度（%）" style="left:132.65px;top:32.70px" width="260.3" height="75.8" viewBox="0 0 260.3 75.8"><title>精度（%）</title><text x="0" y="52.3" font-size="52.3" font-weight="500" fill="#fff" textLength="258.3" lengthAdjust="spacing">精度（%）</text></svg></div></div><div role="row"><div class="abs" role="rowheader" style="left:17.0px;top:967.1px;width:449.9px;height:122.7px;background:#cfd5ea"><svg class="cj" role="img" aria-label="最高温度" style="left:119.00px;top:28.75px" width="212.4" height="76.3" viewBox="0 0 212.4 76.3"><title>最高温度</title><text x="0" y="52.6" font-size="52.6" font-weight="bold" fill="#1270c0">最高温度</text></svg></div><div class="abs" role="cell" style="left:470.1px;top:967.1px;width:573.1px;height:122.7px;background:#cfd5ea"><div class="abs num" style="left:135.4px;top:32.8px;width:300px;text-align:center">65.37</div></div><div class="abs" role="cell" style="left:1046.3px;top:967.1px;width:560.6px;height:122.7px;background:#cfd5ea"><div class="abs num" style="left:129.2px;top:32.8px;width:300px;text-align:center">65.43</div></div><div class="abs" role="cell" style="left:1610.0px;top:967.1px;width:535.0px;height:122.7px;background:#cfd5ea"><div class="abs num" style="left:116.5px;top:32.8px;width:300px;text-align:center">0.06</div></div><div class="abs" role="cell" style="left:2148.1px;top:967.1px;width:526.1px;height:122.7px;background:#cfd5ea"><div class="abs num" style="left:111.9px;top:32.8px;width:300px;text-align:center">99.91</div></div></div><div role="row"><div class="abs" role="rowheader" style="left:17.0px;top:1093.0px;width:449.9px;height:126.0px;background:#e9ebf5"><svg class="cj" role="img" aria-label="最低温度" style="left:119.00px;top:32.30px" width="212.4" height="76.3" viewBox="0 0 212.4 76.3"><title>最低温度</title><text x="0" y="52.6" font-size="52.6" font-weight="bold" fill="#1270c0">最低温度</text></svg></div><div class="abs" role="cell" style="left:470.1px;top:1093.0px;width:573.1px;height:126.0px;background:#e9ebf5"><div class="abs num" style="left:135.4px;top:34.9px;width:300px;text-align:center">35.97</div></div><div class="abs" role="cell" style="left:1046.3px;top:1093.0px;width:560.6px;height:126.0px;background:#e9ebf5"><div class="abs num" style="left:129.2px;top:34.9px;width:300px;text-align:center">35.68</div></div><div class="abs" role="cell" style="left:1610.0px;top:1093.0px;width:535.0px;height:126.0px;background:#e9ebf5"><div class="abs num" style="left:116.5px;top:34.9px;width:300px;text-align:center">0.29</div></div><div class="abs" role="cell" style="left:2148.1px;top:1093.0px;width:526.1px;height:126.0px;background:#e9ebf5"><div class="abs num" style="left:111.9px;top:34.9px;width:300px;text-align:center">99.19</div></div></div></div></body></html>
